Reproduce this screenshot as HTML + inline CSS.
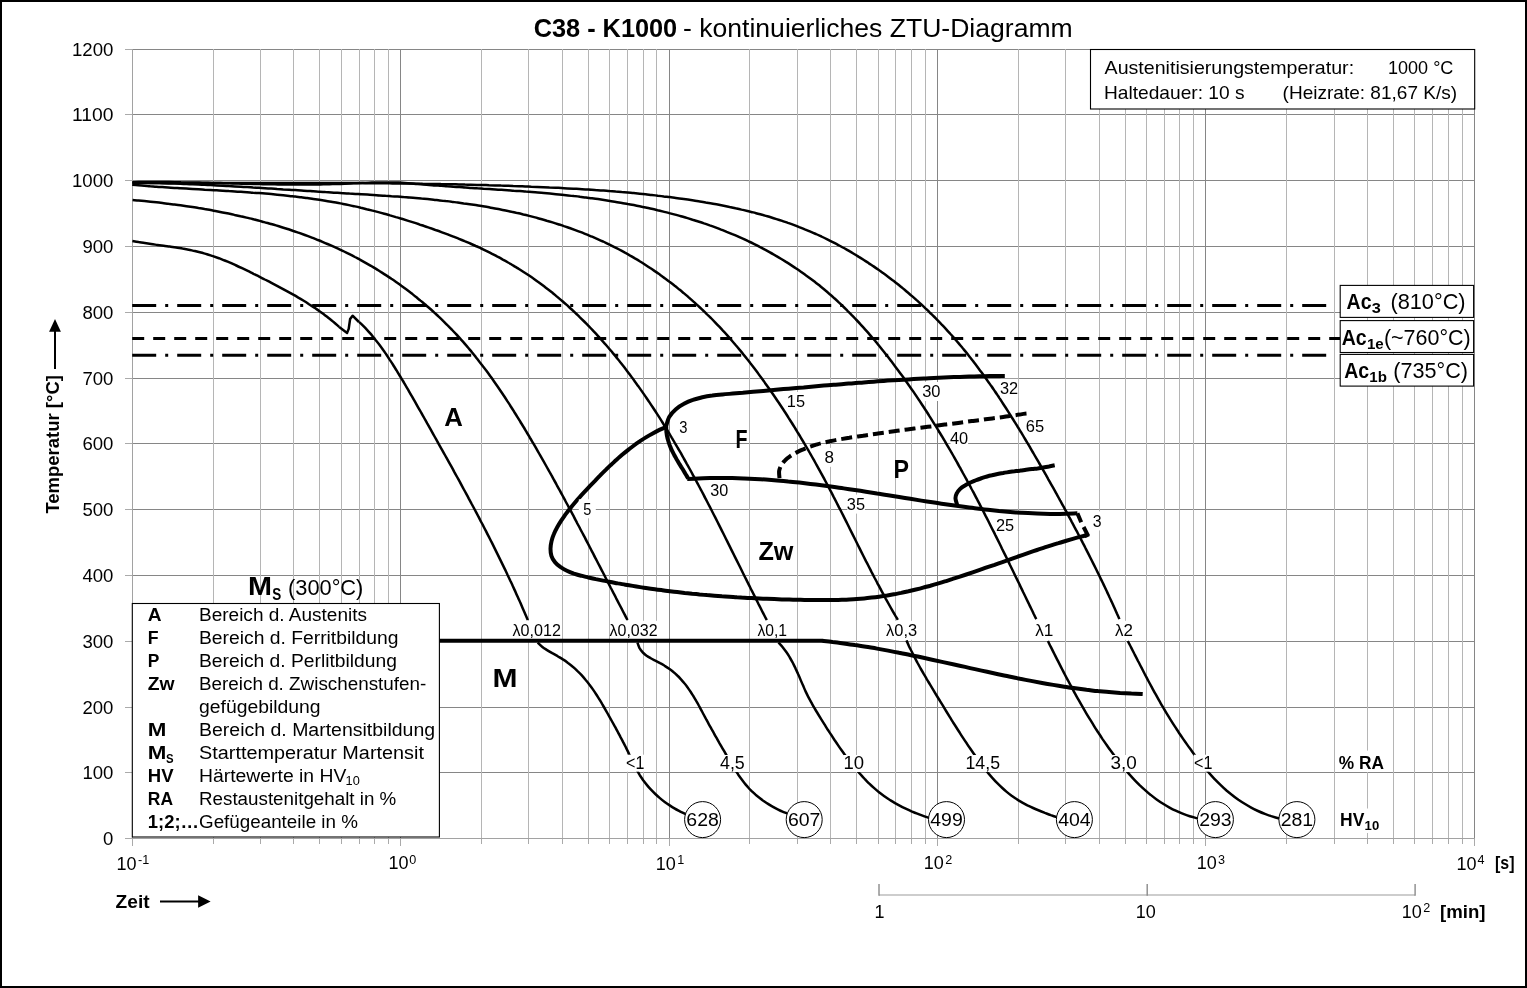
<!DOCTYPE html><html><head><meta charset="utf-8"><title>C38 - K1000 ZTU</title><style>html,body{margin:0;padding:0;background:#fff}svg{display:block;will-change:transform}</style></head><body><svg width="1527" height="988" viewBox="0 0 1527 988" font-family="Liberation Sans, sans-serif" fill="#000">
<rect x="0" y="0" width="1527" height="988" fill="#fff"/>
<g stroke-width="1" shape-rendering="crispEdges"><line x1="132.0" y1="772.5" x2="1475.0" y2="772.5" stroke="#868686"/><line x1="132.0" y1="707.5" x2="1475.0" y2="707.5" stroke="#868686"/><line x1="132.0" y1="641.5" x2="1475.0" y2="641.5" stroke="#868686"/><line x1="132.0" y1="575.5" x2="1475.0" y2="575.5" stroke="#868686"/><line x1="132.0" y1="509.5" x2="1475.0" y2="509.5" stroke="#868686"/><line x1="132.0" y1="443.5" x2="1475.0" y2="443.5" stroke="#868686"/><line x1="132.0" y1="378.5" x2="1475.0" y2="378.5" stroke="#868686"/><line x1="132.0" y1="312.5" x2="1475.0" y2="312.5" stroke="#868686"/><line x1="132.0" y1="246.5" x2="1475.0" y2="246.5" stroke="#868686"/><line x1="132.0" y1="180.5" x2="1475.0" y2="180.5" stroke="#868686"/><line x1="132.0" y1="114.5" x2="1475.0" y2="114.5" stroke="#868686"/><line x1="132.0" y1="49.5" x2="1475.0" y2="49.5" stroke="#868686"/><line x1="213.5" y1="49.0" x2="213.5" y2="838.0" stroke="#b5b5b5"/><line x1="213.5" y1="839.0" x2="213.5" y2="844.0" stroke="#aaaaaa"/><line x1="260.5" y1="49.0" x2="260.5" y2="838.0" stroke="#b5b5b5"/><line x1="260.5" y1="839.0" x2="260.5" y2="844.0" stroke="#aaaaaa"/><line x1="293.5" y1="49.0" x2="293.5" y2="838.0" stroke="#b5b5b5"/><line x1="293.5" y1="839.0" x2="293.5" y2="844.0" stroke="#aaaaaa"/><line x1="319.5" y1="49.0" x2="319.5" y2="838.0" stroke="#b5b5b5"/><line x1="319.5" y1="839.0" x2="319.5" y2="844.0" stroke="#aaaaaa"/><line x1="341.5" y1="49.0" x2="341.5" y2="838.0" stroke="#b5b5b5"/><line x1="341.5" y1="839.0" x2="341.5" y2="844.0" stroke="#aaaaaa"/><line x1="359.5" y1="49.0" x2="359.5" y2="838.0" stroke="#b5b5b5"/><line x1="359.5" y1="839.0" x2="359.5" y2="844.0" stroke="#aaaaaa"/><line x1="374.5" y1="49.0" x2="374.5" y2="838.0" stroke="#b5b5b5"/><line x1="374.5" y1="839.0" x2="374.5" y2="844.0" stroke="#aaaaaa"/><line x1="388.5" y1="49.0" x2="388.5" y2="838.0" stroke="#b5b5b5"/><line x1="388.5" y1="839.0" x2="388.5" y2="844.0" stroke="#aaaaaa"/><line x1="481.5" y1="49.0" x2="481.5" y2="838.0" stroke="#b5b5b5"/><line x1="481.5" y1="839.0" x2="481.5" y2="844.0" stroke="#aaaaaa"/><line x1="528.5" y1="49.0" x2="528.5" y2="838.0" stroke="#b5b5b5"/><line x1="528.5" y1="839.0" x2="528.5" y2="844.0" stroke="#aaaaaa"/><line x1="562.5" y1="49.0" x2="562.5" y2="838.0" stroke="#b5b5b5"/><line x1="562.5" y1="839.0" x2="562.5" y2="844.0" stroke="#aaaaaa"/><line x1="588.5" y1="49.0" x2="588.5" y2="838.0" stroke="#b5b5b5"/><line x1="588.5" y1="839.0" x2="588.5" y2="844.0" stroke="#aaaaaa"/><line x1="609.5" y1="49.0" x2="609.5" y2="838.0" stroke="#b5b5b5"/><line x1="609.5" y1="839.0" x2="609.5" y2="844.0" stroke="#aaaaaa"/><line x1="627.5" y1="49.0" x2="627.5" y2="838.0" stroke="#b5b5b5"/><line x1="627.5" y1="839.0" x2="627.5" y2="844.0" stroke="#aaaaaa"/><line x1="643.5" y1="49.0" x2="643.5" y2="838.0" stroke="#b5b5b5"/><line x1="643.5" y1="839.0" x2="643.5" y2="844.0" stroke="#aaaaaa"/><line x1="656.5" y1="49.0" x2="656.5" y2="838.0" stroke="#b5b5b5"/><line x1="656.5" y1="839.0" x2="656.5" y2="844.0" stroke="#aaaaaa"/><line x1="749.5" y1="49.0" x2="749.5" y2="838.0" stroke="#b5b5b5"/><line x1="749.5" y1="839.0" x2="749.5" y2="844.0" stroke="#aaaaaa"/><line x1="797.5" y1="49.0" x2="797.5" y2="838.0" stroke="#b5b5b5"/><line x1="797.5" y1="839.0" x2="797.5" y2="844.0" stroke="#aaaaaa"/><line x1="830.5" y1="49.0" x2="830.5" y2="838.0" stroke="#b5b5b5"/><line x1="830.5" y1="839.0" x2="830.5" y2="844.0" stroke="#aaaaaa"/><line x1="856.5" y1="49.0" x2="856.5" y2="838.0" stroke="#b5b5b5"/><line x1="856.5" y1="839.0" x2="856.5" y2="844.0" stroke="#aaaaaa"/><line x1="878.5" y1="49.0" x2="878.5" y2="838.0" stroke="#b5b5b5"/><line x1="878.5" y1="839.0" x2="878.5" y2="844.0" stroke="#aaaaaa"/><line x1="895.5" y1="49.0" x2="895.5" y2="838.0" stroke="#b5b5b5"/><line x1="895.5" y1="839.0" x2="895.5" y2="844.0" stroke="#aaaaaa"/><line x1="911.5" y1="49.0" x2="911.5" y2="838.0" stroke="#b5b5b5"/><line x1="911.5" y1="839.0" x2="911.5" y2="844.0" stroke="#aaaaaa"/><line x1="925.5" y1="49.0" x2="925.5" y2="838.0" stroke="#b5b5b5"/><line x1="925.5" y1="839.0" x2="925.5" y2="844.0" stroke="#aaaaaa"/><line x1="1018.5" y1="49.0" x2="1018.5" y2="838.0" stroke="#b5b5b5"/><line x1="1018.5" y1="839.0" x2="1018.5" y2="844.0" stroke="#aaaaaa"/><line x1="1065.5" y1="49.0" x2="1065.5" y2="838.0" stroke="#b5b5b5"/><line x1="1065.5" y1="839.0" x2="1065.5" y2="844.0" stroke="#aaaaaa"/><line x1="1099.5" y1="49.0" x2="1099.5" y2="838.0" stroke="#b5b5b5"/><line x1="1099.5" y1="839.0" x2="1099.5" y2="844.0" stroke="#aaaaaa"/><line x1="1125.5" y1="49.0" x2="1125.5" y2="838.0" stroke="#b5b5b5"/><line x1="1125.5" y1="839.0" x2="1125.5" y2="844.0" stroke="#aaaaaa"/><line x1="1146.5" y1="49.0" x2="1146.5" y2="838.0" stroke="#b5b5b5"/><line x1="1146.5" y1="839.0" x2="1146.5" y2="844.0" stroke="#aaaaaa"/><line x1="1164.5" y1="49.0" x2="1164.5" y2="838.0" stroke="#b5b5b5"/><line x1="1164.5" y1="839.0" x2="1164.5" y2="844.0" stroke="#aaaaaa"/><line x1="1179.5" y1="49.0" x2="1179.5" y2="838.0" stroke="#b5b5b5"/><line x1="1179.5" y1="839.0" x2="1179.5" y2="844.0" stroke="#aaaaaa"/><line x1="1193.5" y1="49.0" x2="1193.5" y2="838.0" stroke="#b5b5b5"/><line x1="1193.5" y1="839.0" x2="1193.5" y2="844.0" stroke="#aaaaaa"/><line x1="1286.5" y1="49.0" x2="1286.5" y2="838.0" stroke="#b5b5b5"/><line x1="1286.5" y1="839.0" x2="1286.5" y2="844.0" stroke="#aaaaaa"/><line x1="1334.5" y1="49.0" x2="1334.5" y2="838.0" stroke="#b5b5b5"/><line x1="1334.5" y1="839.0" x2="1334.5" y2="844.0" stroke="#aaaaaa"/><line x1="1367.5" y1="49.0" x2="1367.5" y2="838.0" stroke="#b5b5b5"/><line x1="1367.5" y1="839.0" x2="1367.5" y2="844.0" stroke="#aaaaaa"/><line x1="1393.5" y1="49.0" x2="1393.5" y2="838.0" stroke="#b5b5b5"/><line x1="1393.5" y1="839.0" x2="1393.5" y2="844.0" stroke="#aaaaaa"/><line x1="1414.5" y1="49.0" x2="1414.5" y2="838.0" stroke="#b5b5b5"/><line x1="1414.5" y1="839.0" x2="1414.5" y2="844.0" stroke="#aaaaaa"/><line x1="1432.5" y1="49.0" x2="1432.5" y2="838.0" stroke="#b5b5b5"/><line x1="1432.5" y1="839.0" x2="1432.5" y2="844.0" stroke="#aaaaaa"/><line x1="1448.5" y1="49.0" x2="1448.5" y2="838.0" stroke="#b5b5b5"/><line x1="1448.5" y1="839.0" x2="1448.5" y2="844.0" stroke="#aaaaaa"/><line x1="1462.5" y1="49.0" x2="1462.5" y2="838.0" stroke="#b5b5b5"/><line x1="1462.5" y1="839.0" x2="1462.5" y2="844.0" stroke="#aaaaaa"/><line x1="400.5" y1="49.0" x2="400.5" y2="838.0" stroke="#868686"/><line x1="669.5" y1="49.0" x2="669.5" y2="838.0" stroke="#868686"/><line x1="937.5" y1="49.0" x2="937.5" y2="838.0" stroke="#868686"/><line x1="1205.5" y1="49.0" x2="1205.5" y2="838.0" stroke="#868686"/><line x1="1474.5" y1="49.0" x2="1474.5" y2="838.0" stroke="#868686"/><line x1="132.5" y1="839.0" x2="132.5" y2="846.0" stroke="#aaaaaa"/><line x1="400.5" y1="839.0" x2="400.5" y2="846.0" stroke="#aaaaaa"/><line x1="669.5" y1="839.0" x2="669.5" y2="846.0" stroke="#aaaaaa"/><line x1="937.5" y1="839.0" x2="937.5" y2="846.0" stroke="#aaaaaa"/><line x1="1205.5" y1="839.0" x2="1205.5" y2="846.0" stroke="#aaaaaa"/><line x1="1474.5" y1="839.0" x2="1474.5" y2="846.0" stroke="#aaaaaa"/><line x1="132.5" y1="49.0" x2="132.5" y2="839.0" stroke="#a2a2a2"/><line x1="132.0" y1="838.5" x2="1475.0" y2="838.5" stroke="#a2a2a2"/><line x1="125.0" y1="838.5" x2="132.0" y2="838.5" stroke="#aaaaaa"/><line x1="125.0" y1="772.5" x2="132.0" y2="772.5" stroke="#aaaaaa"/><line x1="125.0" y1="707.5" x2="132.0" y2="707.5" stroke="#aaaaaa"/><line x1="125.0" y1="641.5" x2="132.0" y2="641.5" stroke="#aaaaaa"/><line x1="125.0" y1="575.5" x2="132.0" y2="575.5" stroke="#aaaaaa"/><line x1="125.0" y1="509.5" x2="132.0" y2="509.5" stroke="#aaaaaa"/><line x1="125.0" y1="443.5" x2="132.0" y2="443.5" stroke="#aaaaaa"/><line x1="125.0" y1="378.5" x2="132.0" y2="378.5" stroke="#aaaaaa"/><line x1="125.0" y1="312.5" x2="132.0" y2="312.5" stroke="#aaaaaa"/><line x1="125.0" y1="246.5" x2="132.0" y2="246.5" stroke="#aaaaaa"/><line x1="125.0" y1="180.5" x2="132.0" y2="180.5" stroke="#aaaaaa"/><line x1="125.0" y1="114.5" x2="132.0" y2="114.5" stroke="#aaaaaa"/><line x1="125.0" y1="49.5" x2="132.0" y2="49.5" stroke="#aaaaaa"/></g>
<text x="113.4" y="844.8" font-size="18.0" textLength="10.3" lengthAdjust="spacingAndGlyphs" text-anchor="end" >0</text>
<text x="113.4" y="778.8" font-size="18.0" textLength="31.0" lengthAdjust="spacingAndGlyphs" text-anchor="end" >100</text>
<text x="113.4" y="713.8" font-size="18.0" textLength="31.0" lengthAdjust="spacingAndGlyphs" text-anchor="end" >200</text>
<text x="113.4" y="647.8" font-size="18.0" textLength="31.0" lengthAdjust="spacingAndGlyphs" text-anchor="end" >300</text>
<text x="113.4" y="581.8" font-size="18.0" textLength="31.0" lengthAdjust="spacingAndGlyphs" text-anchor="end" >400</text>
<text x="113.4" y="515.8" font-size="18.0" textLength="31.0" lengthAdjust="spacingAndGlyphs" text-anchor="end" >500</text>
<text x="113.4" y="449.8" font-size="18.0" textLength="31.0" lengthAdjust="spacingAndGlyphs" text-anchor="end" >600</text>
<text x="113.4" y="384.8" font-size="18.0" textLength="31.0" lengthAdjust="spacingAndGlyphs" text-anchor="end" >700</text>
<text x="113.4" y="318.8" font-size="18.0" textLength="31.0" lengthAdjust="spacingAndGlyphs" text-anchor="end" >800</text>
<text x="113.4" y="252.8" font-size="18.0" textLength="31.0" lengthAdjust="spacingAndGlyphs" text-anchor="end" >900</text>
<text x="113.4" y="186.8" font-size="18.0" textLength="41.4" lengthAdjust="spacingAndGlyphs" text-anchor="end" >1000</text>
<text x="113.4" y="120.8" font-size="18.0" textLength="41.4" lengthAdjust="spacingAndGlyphs" text-anchor="end" >1100</text>
<text x="113.4" y="55.8" font-size="18.0" textLength="41.4" lengthAdjust="spacingAndGlyphs" text-anchor="end" >1200</text>
<text x="116.4" y="869.8" font-size="18.0" >10</text>
<text x="138.1" y="864.0" font-size="12.6" >-1</text>
<text x="388.5" y="869.3" font-size="18.0" >10</text>
<text x="409.3" y="863.5" font-size="12.6" >0</text>
<text x="655.8" y="869.6" font-size="18.0" >10</text>
<text x="677.2" y="863.8" font-size="12.6" >1</text>
<text x="923.8" y="869.3" font-size="18.0" >10</text>
<text x="945.2" y="863.5" font-size="12.6" >2</text>
<text x="1196.7" y="869.3" font-size="18.0" >10</text>
<text x="1218.1" y="863.5" font-size="12.6" >3</text>
<text x="1456.6" y="869.6" font-size="18.0" >10</text>
<text x="1477.4" y="863.8" font-size="12.6" >4</text>
<text x="1495.0" y="869.3" font-size="18.0" textLength="19.5" lengthAdjust="spacingAndGlyphs" font-weight="bold" >[s]</text>
<line x1="879" y1="895" x2="1415.1" y2="895" stroke="#bdbdbd" stroke-width="1.6"/>
<line x1="879.0" y1="884" x2="879.0" y2="895.8" stroke="#8a8a8a" stroke-width="1.4"/>
<line x1="1147.2" y1="884" x2="1147.2" y2="895.8" stroke="#8a8a8a" stroke-width="1.4"/>
<line x1="1415.1" y1="884" x2="1415.1" y2="895.8" stroke="#8a8a8a" stroke-width="1.4"/>
<text x="874.6" y="918.4" font-size="18.0" >1</text>
<text x="1135.7" y="918.0" font-size="18.0" >10</text>
<text x="1401.8" y="918.0" font-size="18.0" >10</text>
<text x="1423.2" y="912.2" font-size="12.6" >2</text>
<text x="1440.0" y="918.0" font-size="18.0" textLength="45.5" lengthAdjust="spacingAndGlyphs" font-weight="bold" >[min]</text>
<text x="115.6" y="907.8" font-size="18.3" textLength="34.0" lengthAdjust="spacingAndGlyphs" font-weight="bold" >Zeit</text>
<line x1="160" y1="901.4" x2="199" y2="901.4" stroke="#000" stroke-width="2"/>
<polygon points="198.1,895.2 210.6,901.4 198.1,907.8"/>
<g transform="translate(58.9,513.6) rotate(-90)">
<text x="0.0" y="0.0" font-size="18.3" textLength="138.5" lengthAdjust="spacingAndGlyphs" font-weight="bold" >Temperatur [°C]</text>
</g>
<line x1="55" y1="369" x2="55" y2="331" stroke="#000" stroke-width="2"/>
<polygon points="49.1,331.8 55,319.1 60.9,331.8"/>
<text x="533.7" y="36.8" font-size="25.6" textLength="143.5" lengthAdjust="spacingAndGlyphs" font-weight="bold" >C38 - K1000</text>
<text x="683.0" y="36.8" font-size="25.6" textLength="389.7" lengthAdjust="spacingAndGlyphs" >- kontinuierliches ZTU-Diagramm</text>
<line x1="132.2" y1="305.4" x2="1327" y2="305.4" stroke="#000" stroke-width="3" stroke-dasharray="24 9 3 9"/>
<line x1="132.2" y1="338.45" x2="1340" y2="338.45" stroke="#000" stroke-width="3" stroke-dasharray="12 9"/>
<line x1="132.2" y1="355.3" x2="1327" y2="355.3" stroke="#000" stroke-width="3" stroke-dasharray="24 9 3 9"/>
<g fill="none" stroke="#000" stroke-width="2.5" stroke-linejoin="round">
<path d="M132.4 240.9 C133.4 241.1 136.5 241.7 138.6 242.1 C140.6 242.4 142.7 242.8 144.8 243.1 C146.9 243.4 149.0 243.7 151.1 244.0 C153.2 244.4 155.3 244.6 157.4 244.9 C159.5 245.2 161.6 245.5 163.7 245.8 C165.7 246.1 167.8 246.3 169.9 246.6 C172.0 246.9 174.1 247.2 176.2 247.5 C178.3 247.9 180.4 248.2 182.5 248.6 C184.5 248.9 186.6 249.3 188.7 249.7 C190.7 250.1 192.8 250.6 194.8 251.0 C196.9 251.5 198.9 252.0 200.9 252.5 C202.9 253.1 205.0 253.6 207.0 254.2 C209.0 254.8 211.0 255.5 212.9 256.1 C214.9 256.8 216.9 257.5 218.9 258.2 C220.8 259.0 222.8 259.7 224.7 260.5 C226.7 261.3 228.6 262.1 230.6 262.9 C232.5 263.8 234.4 264.6 236.3 265.5 C238.3 266.4 240.2 267.3 242.1 268.2 C244.0 269.1 245.9 270.0 247.8 270.9 C249.7 271.9 251.6 272.8 253.5 273.8 C255.4 274.7 257.3 275.7 259.2 276.6 C261.1 277.6 263.0 278.5 264.8 279.5 C266.7 280.5 268.6 281.4 270.5 282.4 C272.4 283.4 274.2 284.3 276.1 285.3 C278.0 286.3 279.9 287.3 281.7 288.3 C283.6 289.3 285.4 290.3 287.3 291.3 C289.1 292.3 291.0 293.4 292.8 294.4 C294.6 295.4 296.5 296.5 298.3 297.6 C300.1 298.6 301.9 299.7 303.7 300.8 C305.5 301.9 307.2 303.0 309.0 304.2 C310.8 305.3 312.5 306.5 314.3 307.6 C316.0 308.8 317.8 310.0 319.5 311.2 C321.2 312.4 322.9 313.7 324.6 314.9 C326.3 316.2 327.9 317.5 329.6 318.8 C331.2 320.1 332.9 321.4 334.5 322.8 C336.1 324.1 338.5 326.3 339.3 326.9"/>
<path d="M359.0 321.9 C359.8 322.6 362.0 324.7 363.5 326.2 C364.9 327.6 366.3 329.1 367.7 330.6 C369.1 332.1 370.4 333.7 371.8 335.2 C373.1 336.8 374.4 338.4 375.6 340.0 C376.9 341.6 378.2 343.2 379.4 344.8 C380.6 346.4 381.8 348.1 383.0 349.8 C384.2 351.4 385.3 353.1 386.5 354.8 C387.6 356.5 388.7 358.2 389.8 359.9 C391.0 361.6 392.1 363.3 393.2 365.0 C394.3 366.8 395.3 368.5 396.4 370.2 C397.5 372.0 398.5 373.7 399.6 375.5 C400.7 377.2 401.7 379.0 402.8 380.7 C403.8 382.5 404.9 384.2 405.9 386.0 C406.9 387.8 408.0 389.5 409.0 391.3 C410.0 393.1 411.0 394.8 412.1 396.6 C413.1 398.4 414.1 400.2 415.1 401.9 C416.1 403.7 417.1 405.5 418.1 407.3 C419.1 409.1 420.2 410.9 421.2 412.6 C422.2 414.4 423.2 416.2 424.2 418.0 C425.2 419.8 426.2 421.6 427.2 423.4 C428.2 425.1 429.2 426.9 430.2 428.7 C431.2 430.5 432.2 432.3 433.2 434.1 C434.2 435.9 435.2 437.6 436.2 439.4 C437.2 441.2 438.2 443.0 439.2 444.8 C440.2 446.6 441.2 448.4 442.2 450.1 C443.2 451.9 444.2 453.7 445.2 455.5 C446.2 457.3 447.2 459.1 448.2 460.9 C449.2 462.7 450.2 464.5 451.2 466.2 C452.2 468.0 453.2 469.8 454.1 471.6 C455.1 473.4 456.1 475.2 457.1 477.0 C458.1 478.8 459.1 480.6 460.1 482.4 C461.0 484.2 462.0 486.0 463.0 487.8 C464.0 489.6 464.9 491.4 465.9 493.2 C466.9 495.0 467.9 496.8 468.8 498.6 C469.8 500.4 470.8 502.2 471.7 504.0 C472.7 505.8 473.7 507.6 474.6 509.4 C475.6 511.2 476.5 513.0 477.5 514.8 C478.4 516.6 479.4 518.4 480.3 520.3 C481.3 522.1 482.2 523.9 483.2 525.7 C484.1 527.5 485.0 529.3 486.0 531.1 C486.9 533.0 487.8 534.8 488.8 536.6 C489.7 538.4 490.6 540.3 491.6 542.1 C492.5 543.9 493.4 545.7 494.3 547.6 C495.2 549.4 496.1 551.2 497.0 553.1 C497.9 554.9 498.8 556.7 499.7 558.6 C500.6 560.4 501.5 562.2 502.4 564.1 C503.3 565.9 504.2 567.8 505.1 569.6 C506.0 571.5 506.9 573.3 507.7 575.2 C508.6 577.0 509.5 578.9 510.3 580.7 C511.2 582.6 512.1 584.4 512.9 586.3 C513.8 588.2 514.6 590.0 515.5 591.9 C516.3 593.8 517.1 595.6 518.0 597.5 C518.8 599.4 519.7 601.2 520.5 603.1 C521.3 605.0 522.1 606.9 522.9 608.8 C523.7 610.6 524.6 612.5 525.4 614.4 C526.2 616.3 527.4 619.1 527.8 620.1"/>
<path d="M132.6 200.0 C133.6 200.1 136.5 200.3 138.5 200.5 C140.5 200.7 142.5 200.9 144.5 201.1 C146.5 201.3 148.5 201.5 150.5 201.7 C152.5 201.9 154.5 202.1 156.5 202.3 C158.5 202.6 160.5 202.8 162.5 203.0 C164.5 203.3 166.5 203.5 168.5 203.8 C170.5 204.0 172.5 204.3 174.5 204.5 C176.5 204.8 178.5 205.1 180.5 205.3 C182.5 205.6 184.5 205.9 186.5 206.2 C188.5 206.5 190.5 206.8 192.5 207.1 C194.5 207.4 196.5 207.7 198.5 208.1 C200.5 208.4 202.5 208.7 204.6 209.1 C206.6 209.4 208.6 209.8 210.6 210.1 C212.6 210.5 214.6 210.8 216.6 211.2 C218.6 211.6 220.6 212.0 222.6 212.4 C224.6 212.8 226.6 213.2 228.6 213.6 C230.6 214.0 232.5 214.4 234.5 214.9 C236.5 215.3 238.5 215.7 240.5 216.2 C242.5 216.6 244.5 217.1 246.5 217.6 C248.4 218.1 250.4 218.5 252.4 219.0 C254.4 219.5 256.4 220.0 258.3 220.5 C260.3 221.0 262.3 221.6 264.2 222.1 C266.2 222.6 268.2 223.2 270.1 223.7 C272.1 224.3 274.0 224.9 276.0 225.4 C277.9 226.0 279.9 226.6 281.8 227.2 C283.8 227.8 285.7 228.4 287.6 229.0 C289.6 229.7 291.5 230.3 293.4 231.0 C295.4 231.6 297.3 232.3 299.2 232.9 C301.1 233.6 303.0 234.3 304.9 235.0 C306.8 235.7 308.7 236.4 310.6 237.1 C312.5 237.8 314.4 238.6 316.3 239.3 C318.2 240.1 320.1 240.8 321.9 241.6 C323.8 242.4 325.7 243.2 327.5 244.0 C329.4 244.8 331.2 245.6 333.1 246.4 C334.9 247.2 336.8 248.1 338.6 248.9 C340.5 249.8 342.3 250.6 344.1 251.5 C345.9 252.4 347.7 253.3 349.5 254.2 C351.4 255.1 353.2 256.0 354.9 257.0 C356.7 257.9 358.5 258.9 360.3 259.8 C362.1 260.8 363.8 261.8 365.6 262.8 C367.4 263.8 369.1 264.8 370.9 265.8 C372.6 266.8 374.4 267.9 376.1 268.9 C377.8 270.0 379.5 271.0 381.2 272.1 C383.0 273.2 384.7 274.3 386.3 275.4 C388.0 276.5 389.7 277.6 391.4 278.8 C393.1 279.9 394.7 281.0 396.4 282.2 C398.1 283.4 399.7 284.5 401.3 285.7 C403.0 286.9 404.6 288.1 406.2 289.3 C407.9 290.6 409.5 291.8 411.1 293.0 C412.7 294.3 414.3 295.5 415.8 296.8 C417.4 298.1 419.0 299.3 420.5 300.6 C422.1 301.9 423.6 303.2 425.2 304.5 C426.7 305.9 428.3 307.2 429.8 308.5 C431.3 309.9 432.8 311.2 434.3 312.6 C435.8 314.0 437.3 315.3 438.7 316.7 C440.2 318.1 441.7 319.5 443.1 320.9 C444.6 322.3 446.0 323.8 447.4 325.2 C448.9 326.6 450.3 328.1 451.7 329.5 C453.1 331.0 454.5 332.5 455.9 333.9 C457.2 335.4 458.6 336.9 460.0 338.4 C461.3 339.9 462.7 341.4 464.0 342.9 C465.3 344.5 466.7 346.0 468.0 347.5 C469.3 349.1 470.6 350.6 471.9 352.2 C473.1 353.7 474.4 355.3 475.7 356.9 C476.9 358.5 478.2 360.1 479.4 361.7 C480.7 363.3 481.9 364.9 483.1 366.5 C484.4 368.1 485.6 369.7 486.8 371.3 C488.0 373.0 489.2 374.6 490.4 376.3 C491.6 377.9 492.7 379.5 493.9 381.2 C495.1 382.9 496.2 384.5 497.4 386.2 C498.5 387.9 499.7 389.5 500.8 391.2 C501.9 392.9 503.1 394.6 504.2 396.3 C505.3 398.0 506.4 399.7 507.5 401.4 C508.7 403.1 509.8 404.8 510.8 406.5 C511.9 408.2 513.0 409.9 514.1 411.7 C515.2 413.4 516.3 415.1 517.3 416.8 C518.4 418.6 519.5 420.3 520.5 422.0 C521.6 423.8 522.6 425.5 523.7 427.2 C524.7 429.0 525.8 430.7 526.8 432.5 C527.9 434.2 528.9 435.9 529.9 437.7 C531.0 439.4 532.0 441.2 533.0 442.9 C534.1 444.7 535.1 446.4 536.1 448.2 C537.1 450.0 538.1 451.7 539.1 453.5 C540.1 455.2 541.1 457.0 542.2 458.8 C543.2 460.5 544.2 462.3 545.1 464.0 C546.1 465.8 547.1 467.6 548.1 469.3 C549.1 471.1 550.1 472.9 551.1 474.7 C552.1 476.4 553.0 478.2 554.0 480.0 C555.0 481.7 556.0 483.5 556.9 485.3 C557.9 487.1 558.9 488.9 559.9 490.6 C560.8 492.4 561.8 494.2 562.8 496.0 C563.7 497.8 564.7 499.5 565.6 501.3 C566.6 503.1 567.5 504.9 568.5 506.7 C569.5 508.5 570.4 510.3 571.4 512.0 C572.3 513.8 573.3 515.6 574.2 517.4 C575.1 519.2 576.1 521.0 577.0 522.8 C578.0 524.6 578.9 526.4 579.9 528.2 C580.8 530.0 581.7 531.7 582.7 533.5 C583.6 535.3 584.6 537.1 585.5 538.9 C586.4 540.7 587.4 542.5 588.3 544.3 C589.2 546.1 590.2 547.9 591.1 549.7 C592.0 551.5 593.0 553.3 593.9 555.1 C594.8 556.9 595.8 558.7 596.7 560.5 C597.6 562.3 598.5 564.1 599.5 565.9 C600.4 567.7 601.3 569.5 602.3 571.3 C603.2 573.1 604.1 574.9 605.1 576.7 C606.0 578.5 606.9 580.3 607.9 582.1 C608.8 583.9 609.7 585.7 610.6 587.5 C611.6 589.3 612.5 591.1 613.4 592.9 C614.4 594.7 615.3 596.5 616.2 598.3 C617.2 600.1 618.1 601.9 619.0 603.7 C620.0 605.6 620.9 607.4 621.9 609.2 C622.8 611.0 623.7 612.8 624.7 614.6 C625.6 616.4 627.0 619.1 627.5 620.0"/>
<path d="M132.2 184.8 C133.2 184.9 136.2 185.2 138.2 185.3 C140.2 185.5 142.2 185.7 144.2 185.8 C146.2 186.0 148.2 186.1 150.2 186.3 C152.2 186.4 154.2 186.6 156.3 186.7 C158.3 186.9 160.3 187.0 162.3 187.1 C164.3 187.3 166.3 187.4 168.3 187.5 C170.3 187.7 172.3 187.8 174.4 187.9 C176.4 188.0 178.4 188.2 180.4 188.3 C182.4 188.4 184.4 188.5 186.4 188.6 C188.5 188.8 190.5 188.9 192.5 189.0 C194.5 189.1 196.5 189.2 198.6 189.3 C200.6 189.4 202.6 189.5 204.6 189.7 C206.6 189.8 208.6 189.9 210.7 190.0 C212.7 190.1 214.7 190.2 216.7 190.3 C218.7 190.5 220.8 190.6 222.8 190.7 C224.8 190.8 226.8 190.9 228.8 191.1 C230.9 191.2 232.9 191.3 234.9 191.4 C236.9 191.6 238.9 191.7 241.0 191.8 C243.0 192.0 245.0 192.1 247.0 192.2 C249.0 192.4 251.0 192.5 253.1 192.7 C255.1 192.8 257.1 193.0 259.1 193.1 C261.1 193.3 263.1 193.5 265.2 193.6 C267.2 193.8 269.2 194.0 271.2 194.1 C273.2 194.3 275.2 194.5 277.2 194.7 C279.2 194.9 281.2 195.1 283.3 195.3 C285.3 195.5 287.3 195.7 289.3 195.9 C291.3 196.1 293.3 196.4 295.3 196.6 C297.3 196.8 299.3 197.1 301.3 197.3 C303.3 197.6 305.3 197.8 307.3 198.1 C309.3 198.4 311.3 198.6 313.3 198.9 C315.3 199.2 317.3 199.5 319.3 199.8 C321.3 200.1 323.3 200.4 325.2 200.7 C327.2 201.1 329.2 201.4 331.2 201.7 C333.2 202.1 335.2 202.4 337.2 202.8 C339.1 203.2 341.1 203.5 343.1 203.9 C345.1 204.3 347.0 204.7 349.0 205.1 C351.0 205.6 353.0 206.0 354.9 206.4 C356.9 206.8 358.9 207.3 360.8 207.8 C362.8 208.2 364.7 208.7 366.7 209.2 C368.7 209.6 370.6 210.1 372.6 210.6 C374.5 211.1 376.5 211.6 378.4 212.1 C380.4 212.7 382.3 213.2 384.3 213.7 C386.2 214.3 388.2 214.8 390.1 215.4 C392.1 215.9 394.0 216.5 395.9 217.1 C397.9 217.6 399.8 218.2 401.8 218.8 C403.7 219.4 405.6 220.0 407.5 220.6 C409.5 221.2 411.4 221.8 413.3 222.4 C415.3 223.1 417.2 223.7 419.1 224.3 C421.0 225.0 422.9 225.6 424.8 226.3 C426.8 226.9 428.7 227.6 430.6 228.2 C432.5 228.9 434.4 229.6 436.3 230.3 C438.2 230.9 440.1 231.6 442.0 232.3 C443.9 233.0 445.8 233.7 447.7 234.4 C449.6 235.2 451.5 235.9 453.4 236.6 C455.2 237.3 457.1 238.1 459.0 238.8 C460.9 239.6 462.7 240.4 464.6 241.2 C466.5 241.9 468.3 242.7 470.2 243.5 C472.0 244.3 473.9 245.2 475.7 246.0 C477.6 246.8 479.4 247.7 481.2 248.5 C483.1 249.4 484.9 250.3 486.7 251.1 C488.5 252.0 490.3 252.9 492.1 253.9 C493.9 254.8 495.7 255.7 497.5 256.7 C499.3 257.6 501.1 258.6 502.8 259.6 C504.6 260.5 506.4 261.5 508.1 262.5 C509.9 263.5 511.6 264.6 513.4 265.6 C515.1 266.6 516.8 267.7 518.5 268.7 C520.2 269.8 521.9 270.9 523.6 272.0 C525.3 273.1 527.0 274.2 528.7 275.3 C530.3 276.4 532.0 277.6 533.7 278.7 C535.3 279.9 536.9 281.1 538.6 282.2 C540.2 283.4 541.8 284.6 543.4 285.8 C545.0 287.0 546.6 288.3 548.2 289.5 C549.8 290.7 551.4 292.0 552.9 293.2 C554.5 294.5 556.0 295.8 557.6 297.1 C559.1 298.4 560.6 299.7 562.2 301.0 C563.7 302.3 565.2 303.6 566.7 304.9 C568.2 306.3 569.7 307.6 571.2 309.0 C572.6 310.3 574.1 311.7 575.6 313.1 C577.0 314.5 578.5 315.9 579.9 317.3 C581.4 318.7 582.8 320.1 584.2 321.5 C585.6 322.9 587.1 324.4 588.5 325.8 C589.9 327.3 591.2 328.7 592.6 330.2 C594.0 331.7 595.4 333.1 596.8 334.6 C598.1 336.1 599.5 337.6 600.8 339.1 C602.2 340.6 603.5 342.1 604.8 343.7 C606.2 345.2 607.5 346.7 608.8 348.2 C610.1 349.8 611.4 351.3 612.7 352.9 C614.0 354.4 615.3 356.0 616.5 357.6 C617.8 359.2 619.1 360.7 620.3 362.3 C621.6 363.9 622.9 365.5 624.1 367.1 C625.3 368.7 626.6 370.3 627.8 371.9 C629.0 373.5 630.2 375.2 631.4 376.8 C632.7 378.4 633.9 380.1 635.0 381.7 C636.2 383.3 637.4 385.0 638.6 386.6 C639.8 388.3 640.9 389.9 642.1 391.6 C643.3 393.3 644.4 394.9 645.6 396.6 C646.7 398.3 647.9 400.0 649.0 401.6 C650.1 403.3 651.2 405.0 652.4 406.7 C653.5 408.4 654.6 410.1 655.7 411.8 C656.8 413.5 657.9 415.2 659.0 416.9 C660.1 418.6 661.1 420.3 662.2 422.0 C663.3 423.8 664.4 425.5 665.4 427.2 C666.5 428.9 667.5 430.6 668.6 432.4 C669.6 434.1 670.7 435.8 671.7 437.6 C672.7 439.3 673.8 441.0 674.8 442.8 C675.8 444.5 676.8 446.2 677.8 448.0 C678.8 449.7 679.9 451.5 680.9 453.2 C681.9 455.0 682.8 456.7 683.8 458.5 C684.8 460.2 685.8 462.0 686.8 463.8 C687.8 465.5 688.8 467.3 689.7 469.0 C690.7 470.8 691.7 472.6 692.6 474.3 C693.6 476.1 694.5 477.9 695.5 479.6 C696.5 481.4 697.4 483.2 698.4 485.0 C699.3 486.7 700.2 488.5 701.2 490.3 C702.1 492.1 703.1 493.9 704.0 495.6 C704.9 497.4 705.9 499.2 706.8 501.0 C707.7 502.8 708.6 504.6 709.6 506.4 C710.5 508.2 711.4 509.9 712.3 511.7 C713.2 513.5 714.1 515.3 715.1 517.1 C716.0 518.9 716.9 520.7 717.8 522.5 C718.7 524.3 719.6 526.1 720.5 527.9 C721.4 529.7 722.3 531.5 723.2 533.3 C724.1 535.1 725.0 536.9 725.9 538.7 C726.8 540.5 727.7 542.3 728.6 544.1 C729.5 545.9 730.4 547.7 731.3 549.6 C732.2 551.4 733.1 553.2 734.0 555.0 C734.9 556.8 735.8 558.6 736.7 560.4 C737.6 562.2 738.5 564.0 739.4 565.8 C740.3 567.6 741.2 569.4 742.1 571.3 C743.0 573.1 743.9 574.9 744.8 576.7 C745.7 578.5 746.6 580.3 747.5 582.1 C748.4 583.9 749.3 585.7 750.2 587.5 C751.1 589.4 752.1 591.2 753.0 593.0 C753.9 594.8 754.8 596.6 755.7 598.4 C756.6 600.2 757.5 602.0 758.4 603.8 C759.4 605.6 760.3 607.4 761.2 609.2 C762.1 611.1 763.1 612.9 764.0 614.7 C764.9 616.5 766.3 619.2 766.8 620.1"/>
<path d="M132.2 182.6 C133.2 182.6 136.2 182.6 138.2 182.6 C140.2 182.7 142.2 182.7 144.3 182.7 C146.3 182.8 148.3 182.8 150.3 182.9 C152.3 182.9 154.3 183.0 156.3 183.0 C158.3 183.1 160.3 183.1 162.4 183.2 C164.4 183.2 166.4 183.3 168.4 183.4 C170.4 183.4 172.4 183.5 174.4 183.6 C176.4 183.6 178.5 183.7 180.5 183.8 C182.5 183.9 184.5 183.9 186.5 184.0 C188.5 184.1 190.5 184.2 192.5 184.3 C194.6 184.3 196.6 184.4 198.6 184.5 C200.6 184.6 202.6 184.7 204.6 184.8 C206.6 184.9 208.7 185.0 210.7 185.1 C212.7 185.2 214.7 185.3 216.7 185.4 C218.7 185.5 220.7 185.6 222.8 185.7 C224.8 185.8 226.8 185.9 228.8 186.1 C230.8 186.2 232.8 186.3 234.8 186.4 C236.9 186.5 238.9 186.6 240.9 186.7 C242.9 186.9 244.9 187.0 246.9 187.1 C248.9 187.2 251.0 187.3 253.0 187.5 C255.0 187.6 257.0 187.7 259.0 187.8 C261.0 188.0 263.0 188.1 265.0 188.2 C267.1 188.3 269.1 188.5 271.1 188.6 C273.1 188.7 275.1 188.8 277.1 189.0 C279.1 189.1 281.1 189.2 283.2 189.4 C285.2 189.5 287.2 189.6 289.2 189.7 C291.2 189.9 293.2 190.0 295.2 190.1 C297.2 190.3 299.2 190.4 301.3 190.5 C303.3 190.7 305.3 190.8 307.3 190.9 C309.3 191.0 311.3 191.2 313.3 191.3 C315.3 191.4 317.3 191.6 319.3 191.7 C321.3 191.8 323.4 191.9 325.4 192.1 C327.4 192.2 329.4 192.3 331.4 192.4 C333.4 192.6 335.4 192.7 337.4 192.8 C339.4 192.9 341.4 193.1 343.4 193.2 C345.4 193.3 347.4 193.4 349.4 193.6 C351.4 193.7 353.4 193.8 355.4 193.9 C357.4 194.0 359.4 194.2 361.4 194.3 C363.4 194.4 365.4 194.5 367.4 194.6 C369.4 194.8 371.5 194.9 373.5 195.0 C375.5 195.1 377.5 195.3 379.5 195.4 C381.5 195.5 383.5 195.6 385.5 195.8 C387.5 195.9 389.5 196.0 391.5 196.2 C393.5 196.3 395.5 196.5 397.5 196.6 C399.5 196.8 401.5 196.9 403.5 197.1 C405.5 197.2 407.5 197.4 409.5 197.5 C411.5 197.7 413.5 197.9 415.5 198.0 C417.5 198.2 419.5 198.4 421.5 198.6 C423.5 198.7 425.5 198.9 427.5 199.1 C429.5 199.3 431.5 199.5 433.6 199.7 C435.6 199.9 437.6 200.2 439.6 200.4 C441.6 200.6 443.6 200.8 445.6 201.1 C447.6 201.3 449.6 201.5 451.6 201.8 C453.6 202.0 455.6 202.3 457.7 202.5 C459.7 202.8 461.7 203.1 463.7 203.4 C465.7 203.6 467.7 203.9 469.7 204.2 C471.7 204.5 473.7 204.8 475.7 205.1 C477.7 205.5 479.7 205.8 481.7 206.1 C483.7 206.4 485.7 206.8 487.7 207.1 C489.7 207.5 491.7 207.8 493.7 208.2 C495.7 208.6 497.6 208.9 499.6 209.3 C501.6 209.7 503.6 210.1 505.6 210.5 C507.6 210.9 509.5 211.3 511.5 211.8 C513.5 212.2 515.5 212.6 517.4 213.1 C519.4 213.5 521.4 214.0 523.3 214.5 C525.3 214.9 527.3 215.4 529.2 215.9 C531.2 216.4 533.1 216.9 535.1 217.4 C537.0 217.9 539.0 218.5 540.9 219.0 C542.8 219.5 544.8 220.1 546.7 220.7 C548.6 221.2 550.6 221.8 552.5 222.4 C554.4 223.0 556.3 223.6 558.2 224.2 C560.1 224.8 562.1 225.4 564.0 226.1 C565.9 226.7 567.8 227.4 569.6 228.0 C571.5 228.7 573.4 229.4 575.3 230.1 C577.2 230.8 579.1 231.5 580.9 232.2 C582.8 232.9 584.7 233.7 586.5 234.4 C588.4 235.2 590.2 235.9 592.1 236.7 C593.9 237.5 595.8 238.3 597.6 239.1 C599.4 239.9 601.2 240.7 603.1 241.5 C604.9 242.4 606.7 243.2 608.5 244.1 C610.3 245.0 612.1 245.9 613.9 246.8 C615.7 247.7 617.4 248.6 619.2 249.5 C621.0 250.5 622.7 251.4 624.5 252.4 C626.3 253.3 628.0 254.3 629.7 255.3 C631.5 256.3 633.2 257.3 634.9 258.4 C636.7 259.4 638.4 260.4 640.1 261.5 C641.8 262.5 643.5 263.6 645.2 264.7 C646.9 265.8 648.6 266.9 650.2 268.0 C651.9 269.1 653.6 270.3 655.2 271.4 C656.9 272.5 658.5 273.7 660.2 274.9 C661.8 276.0 663.4 277.2 665.1 278.4 C666.7 279.6 668.3 280.8 669.9 282.1 C671.5 283.3 673.1 284.5 674.7 285.8 C676.3 287.0 677.8 288.3 679.4 289.6 C681.0 290.8 682.5 292.1 684.1 293.4 C685.6 294.7 687.2 296.0 688.7 297.4 C690.2 298.7 691.7 300.0 693.2 301.4 C694.7 302.7 696.2 304.1 697.7 305.4 C699.2 306.8 700.7 308.2 702.2 309.6 C703.6 311.0 705.1 312.4 706.5 313.8 C708.0 315.2 709.4 316.6 710.9 318.0 C712.3 319.5 713.7 320.9 715.1 322.3 C716.5 323.8 717.9 325.3 719.3 326.7 C720.7 328.2 722.1 329.7 723.4 331.2 C724.8 332.6 726.2 334.1 727.5 335.6 C728.8 337.1 730.2 338.7 731.5 340.2 C732.8 341.7 734.1 343.2 735.4 344.8 C736.7 346.3 738.0 347.8 739.3 349.4 C740.6 350.9 741.9 352.5 743.1 354.1 C744.4 355.6 745.7 357.2 746.9 358.8 C748.2 360.4 749.4 361.9 750.6 363.5 C751.9 365.1 753.1 366.7 754.3 368.3 C755.5 369.9 756.7 371.5 757.9 373.1 C759.1 374.8 760.3 376.4 761.5 378.0 C762.7 379.6 763.9 381.3 765.0 382.9 C766.2 384.5 767.4 386.2 768.5 387.8 C769.7 389.5 770.8 391.1 772.0 392.8 C773.1 394.4 774.3 396.1 775.4 397.7 C776.5 399.4 777.6 401.1 778.8 402.7 C779.9 404.4 781.0 406.1 782.1 407.8 C783.2 409.5 784.3 411.1 785.4 412.8 C786.5 414.5 787.6 416.2 788.6 417.9 C789.7 419.6 790.8 421.3 791.9 423.0 C792.9 424.7 794.0 426.4 795.1 428.1 C796.1 429.9 797.2 431.6 798.2 433.3 C799.3 435.0 800.3 436.7 801.3 438.5 C802.4 440.2 803.4 441.9 804.4 443.7 C805.4 445.4 806.5 447.1 807.5 448.9 C808.5 450.6 809.5 452.4 810.5 454.1 C811.5 455.9 812.5 457.6 813.5 459.4 C814.5 461.1 815.4 462.9 816.4 464.6 C817.4 466.4 818.4 468.2 819.3 469.9 C820.3 471.7 821.3 473.5 822.2 475.2 C823.2 477.0 824.2 478.8 825.1 480.5 C826.1 482.3 827.0 484.1 827.9 485.9 C828.9 487.7 829.8 489.4 830.7 491.2 C831.7 493.0 832.6 494.8 833.5 496.6 C834.5 498.4 835.4 500.2 836.3 502.0 C837.2 503.8 838.1 505.6 839.0 507.4 C840.0 509.2 840.9 510.9 841.8 512.7 C842.7 514.5 843.6 516.3 844.5 518.1 C845.4 519.9 846.3 521.7 847.2 523.5 C848.1 525.3 849.0 527.1 849.9 529.0 C850.8 530.8 851.7 532.6 852.6 534.4 C853.5 536.2 854.4 538.0 855.3 539.8 C856.2 541.6 857.1 543.4 858.0 545.2 C858.9 547.0 859.8 548.8 860.7 550.6 C861.6 552.4 862.5 554.2 863.4 556.0 C864.3 557.8 865.2 559.6 866.1 561.4 C867.1 563.2 868.0 564.9 868.9 566.7 C869.8 568.5 870.7 570.3 871.6 572.1 C872.6 573.9 873.5 575.7 874.4 577.5 C875.4 579.3 876.3 581.0 877.2 582.8 C878.2 584.6 879.1 586.4 880.1 588.1 C881.0 589.9 882.0 591.7 882.9 593.5 C883.9 595.2 884.8 597.0 885.8 598.8 C886.8 600.5 887.8 602.3 888.7 604.0 C889.7 605.8 890.7 607.6 891.7 609.3 C892.7 611.1 893.7 612.8 894.7 614.5 C895.7 616.3 897.3 618.9 897.8 619.8"/>
<path d="M132.6 182.2 C133.6 182.2 136.6 182.1 138.6 182.1 C140.7 182.1 142.7 182.1 144.7 182.1 C146.7 182.0 148.7 182.0 150.8 182.0 C152.8 182.0 154.8 182.0 156.8 182.0 C158.8 182.0 160.8 182.0 162.9 182.0 C164.9 182.1 166.9 182.1 168.9 182.1 C170.9 182.1 172.9 182.1 175.0 182.2 C177.0 182.2 179.0 182.2 181.0 182.3 C183.0 182.3 185.1 182.3 187.1 182.4 C189.1 182.4 191.1 182.4 193.1 182.5 C195.1 182.5 197.2 182.6 199.2 182.6 C201.2 182.6 203.2 182.7 205.2 182.7 C207.3 182.8 209.3 182.8 211.3 182.9 C213.3 182.9 215.3 183.0 217.4 183.0 C219.4 183.1 221.4 183.1 223.4 183.2 C225.4 183.2 227.4 183.3 229.5 183.3 C231.5 183.4 233.5 183.5 235.5 183.5 C237.5 183.6 239.6 183.6 241.6 183.7 C243.6 183.7 245.6 183.8 247.6 183.8 C249.7 183.9 251.7 183.9 253.7 183.9 C255.7 184.0 257.7 184.0 259.8 184.1 C261.8 184.1 263.8 184.2 265.8 184.2 C267.8 184.2 269.9 184.3 271.9 184.3 C273.9 184.3 275.9 184.4 277.9 184.4 C280.0 184.4 282.0 184.4 284.0 184.5 C286.0 184.5 288.0 184.5 290.1 184.5 C292.1 184.5 294.1 184.5 296.1 184.5 C298.1 184.5 300.1 184.6 302.2 184.5 C304.2 184.5 306.2 184.5 308.2 184.5 C310.2 184.5 312.3 184.5 314.3 184.5 C316.3 184.5 318.3 184.4 320.3 184.4 C322.4 184.4 324.4 184.3 326.4 184.3 C328.4 184.2 330.4 184.2 332.5 184.1 C334.5 184.1 336.5 184.0 338.5 183.9 C340.5 183.9 342.5 183.8 344.6 183.7 C346.6 183.6 348.6 183.5 350.6 183.5 C352.6 183.4 354.7 183.3 356.7 183.2 C358.7 183.1 360.7 183.0 362.7 182.9 C364.7 182.9 366.8 182.8 368.8 182.7 C370.8 182.6 372.8 182.6 374.8 182.5 C376.8 182.5 378.8 182.4 380.9 182.4 C382.9 182.4 384.9 182.4 386.9 182.4 C388.9 182.4 390.9 182.4 392.9 182.5 C394.9 182.5 397.0 182.6 399.0 182.6 C401.0 182.7 403.0 182.9 405.0 183.0 C407.0 183.1 409.0 183.3 411.0 183.4 C413.0 183.6 415.0 183.7 417.0 183.9 C419.1 184.1 421.1 184.3 423.1 184.4 C425.1 184.6 427.1 184.8 429.1 184.9 C431.1 185.1 433.1 185.2 435.1 185.4 C437.1 185.5 439.2 185.7 441.2 185.8 C443.2 186.0 445.2 186.1 447.2 186.3 C449.2 186.4 451.2 186.5 453.2 186.7 C455.3 186.8 457.3 187.0 459.3 187.1 C461.3 187.2 463.3 187.4 465.3 187.5 C467.3 187.6 469.3 187.8 471.4 187.9 C473.4 188.0 475.4 188.1 477.4 188.3 C479.4 188.4 481.4 188.5 483.4 188.7 C485.5 188.8 487.5 188.9 489.5 189.0 C491.5 189.2 493.5 189.3 495.5 189.4 C497.6 189.6 499.6 189.7 501.6 189.8 C503.6 190.0 505.6 190.1 507.6 190.2 C509.6 190.4 511.7 190.5 513.7 190.7 C515.7 190.8 517.7 191.0 519.7 191.1 C521.7 191.3 523.7 191.4 525.7 191.6 C527.8 191.7 529.8 191.9 531.8 192.0 C533.8 192.2 535.8 192.4 537.8 192.5 C539.8 192.7 541.8 192.9 543.9 193.0 C545.9 193.2 547.9 193.4 549.9 193.6 C551.9 193.8 553.9 194.0 555.9 194.2 C557.9 194.4 559.9 194.6 561.9 194.8 C563.9 195.0 565.9 195.2 568.0 195.4 C570.0 195.6 572.0 195.8 574.0 196.1 C576.0 196.3 578.0 196.5 580.0 196.8 C582.0 197.0 584.0 197.3 586.0 197.5 C588.0 197.8 590.0 198.0 592.0 198.3 C594.0 198.6 596.0 198.9 598.0 199.1 C600.0 199.4 602.0 199.7 604.0 200.0 C606.0 200.3 607.9 200.6 609.9 200.9 C611.9 201.2 613.9 201.6 615.9 201.9 C617.9 202.2 619.9 202.6 621.9 202.9 C623.9 203.3 625.9 203.6 627.8 204.0 C629.8 204.3 631.8 204.7 633.8 205.1 C635.8 205.5 637.7 205.9 639.7 206.3 C641.7 206.7 643.7 207.1 645.7 207.5 C647.6 207.9 649.6 208.4 651.6 208.8 C653.5 209.2 655.5 209.7 657.5 210.2 C659.4 210.6 661.4 211.1 663.4 211.6 C665.3 212.1 667.3 212.5 669.2 213.1 C671.2 213.6 673.1 214.1 675.1 214.6 C677.0 215.1 679.0 215.7 680.9 216.2 C682.8 216.8 684.8 217.3 686.7 217.9 C688.7 218.5 690.6 219.1 692.5 219.7 C694.4 220.2 696.4 220.9 698.3 221.5 C700.2 222.1 702.1 222.7 704.0 223.4 C705.9 224.0 707.8 224.7 709.7 225.4 C711.6 226.0 713.5 226.7 715.4 227.4 C717.3 228.1 719.2 228.8 721.1 229.6 C722.9 230.3 724.8 231.0 726.7 231.8 C728.6 232.5 730.4 233.3 732.3 234.1 C734.1 234.8 736.0 235.6 737.8 236.4 C739.7 237.3 741.5 238.1 743.4 238.9 C745.2 239.8 747.0 240.6 748.8 241.5 C750.7 242.3 752.5 243.2 754.3 244.1 C756.1 245.0 757.9 245.9 759.7 246.9 C761.5 247.8 763.3 248.7 765.0 249.7 C766.8 250.6 768.6 251.6 770.4 252.6 C772.1 253.6 773.9 254.6 775.6 255.6 C777.4 256.6 779.1 257.6 780.9 258.7 C782.6 259.7 784.3 260.8 786.0 261.9 C787.7 262.9 789.4 264.0 791.1 265.1 C792.8 266.2 794.5 267.3 796.2 268.5 C797.9 269.6 799.5 270.7 801.2 271.9 C802.9 273.1 804.5 274.2 806.1 275.4 C807.8 276.6 809.4 277.8 811.0 279.0 C812.6 280.2 814.2 281.5 815.8 282.7 C817.4 284.0 819.0 285.2 820.6 286.5 C822.1 287.7 823.7 289.0 825.2 290.3 C826.8 291.6 828.3 292.9 829.8 294.3 C831.4 295.6 832.9 296.9 834.4 298.3 C835.9 299.6 837.4 301.0 838.8 302.4 C840.3 303.7 841.8 305.1 843.2 306.5 C844.7 307.9 846.1 309.4 847.5 310.8 C849.0 312.2 850.4 313.6 851.8 315.1 C853.2 316.5 854.6 318.0 856.0 319.5 C857.4 320.9 858.8 322.4 860.1 323.9 C861.5 325.4 862.8 326.9 864.2 328.4 C865.5 329.9 866.9 331.4 868.2 332.9 C869.5 334.4 870.8 336.0 872.2 337.5 C873.5 339.0 874.8 340.6 876.1 342.1 C877.3 343.7 878.6 345.3 879.9 346.8 C881.2 348.4 882.4 350.0 883.7 351.5 C885.0 353.1 886.2 354.7 887.5 356.3 C888.7 357.9 889.9 359.5 891.2 361.1 C892.4 362.7 893.6 364.3 894.8 365.9 C896.0 367.5 897.2 369.1 898.4 370.7 C899.6 372.4 900.8 374.0 902.0 375.6 C903.2 377.2 904.4 378.9 905.5 380.5 C906.7 382.2 907.9 383.8 909.0 385.5 C910.2 387.1 911.3 388.8 912.5 390.4 C913.6 392.1 914.8 393.7 915.9 395.4 C917.0 397.1 918.1 398.8 919.3 400.4 C920.4 402.1 921.5 403.8 922.6 405.5 C923.7 407.2 924.8 408.8 925.9 410.5 C927.0 412.2 928.1 413.9 929.1 415.6 C930.2 417.3 931.3 419.0 932.4 420.8 C933.4 422.5 934.5 424.2 935.6 425.9 C936.6 427.6 937.7 429.3 938.7 431.0 C939.8 432.8 940.8 434.5 941.9 436.2 C942.9 438.0 943.9 439.7 945.0 441.4 C946.0 443.2 947.0 444.9 948.0 446.7 C949.0 448.4 950.1 450.1 951.1 451.9 C952.1 453.6 953.1 455.4 954.1 457.1 C955.1 458.9 956.1 460.7 957.1 462.4 C958.0 464.2 959.0 465.9 960.0 467.7 C961.0 469.5 962.0 471.2 962.9 473.0 C963.9 474.8 964.9 476.6 965.9 478.3 C966.8 480.1 967.8 481.9 968.7 483.7 C969.7 485.4 970.7 487.2 971.6 489.0 C972.6 490.8 973.5 492.6 974.5 494.4 C975.4 496.2 976.3 497.9 977.3 499.7 C978.2 501.5 979.2 503.3 980.1 505.1 C981.0 506.9 981.9 508.7 982.9 510.5 C983.8 512.3 984.7 514.1 985.6 515.9 C986.6 517.7 987.5 519.5 988.4 521.3 C989.3 523.1 990.2 524.9 991.1 526.7 C992.0 528.5 992.9 530.3 993.9 532.2 C994.8 534.0 995.7 535.8 996.6 537.6 C997.5 539.4 998.4 541.2 999.3 543.0 C1000.2 544.8 1001.1 546.6 1001.9 548.5 C1002.8 550.3 1003.7 552.1 1004.6 553.9 C1005.5 555.7 1006.4 557.5 1007.3 559.3 C1008.2 561.2 1009.1 563.0 1009.9 564.8 C1010.8 566.6 1011.7 568.4 1012.6 570.2 C1013.5 572.0 1014.4 573.9 1015.2 575.7 C1016.1 577.5 1017.0 579.3 1017.9 581.1 C1018.8 582.9 1019.6 584.8 1020.5 586.6 C1021.4 588.4 1022.3 590.2 1023.1 592.0 C1024.0 593.8 1024.9 595.6 1025.8 597.5 C1026.6 599.3 1027.5 601.1 1028.4 602.9 C1029.3 604.7 1030.1 606.5 1031.0 608.3 C1031.9 610.1 1032.8 611.9 1033.6 613.8 C1034.5 615.6 1035.8 618.3 1036.3 619.2"/>
<path d="M132.6 183.0 C133.6 183.0 136.6 183.0 138.6 183.0 C140.7 183.0 142.7 183.0 144.7 183.0 C146.7 183.0 148.7 183.0 150.7 183.0 C152.7 183.0 154.7 183.0 156.8 183.0 C158.8 183.0 160.8 183.1 162.8 183.1 C164.8 183.1 166.8 183.1 168.8 183.1 C170.8 183.1 172.9 183.1 174.9 183.1 C176.9 183.1 178.9 183.1 180.9 183.1 C182.9 183.1 184.9 183.1 187.0 183.1 C189.0 183.1 191.0 183.1 193.0 183.1 C195.0 183.1 197.0 183.1 199.0 183.1 C201.1 183.1 203.1 183.1 205.1 183.0 C207.1 183.0 209.1 183.0 211.1 183.0 C213.1 183.0 215.2 183.0 217.2 183.0 C219.2 183.0 221.2 183.0 223.2 183.0 C225.2 183.0 227.2 183.0 229.3 183.0 C231.3 183.0 233.3 183.0 235.3 183.0 C237.3 183.0 239.3 183.0 241.3 183.0 C243.4 183.0 245.4 183.0 247.4 183.0 C249.4 183.0 251.4 183.0 253.4 183.0 C255.4 183.0 257.5 183.0 259.5 183.0 C261.5 183.0 263.5 183.0 265.5 183.0 C267.5 183.0 269.5 183.0 271.6 183.0 C273.6 183.0 275.6 183.0 277.6 183.0 C279.6 183.0 281.6 183.0 283.7 183.0 C285.7 183.0 287.7 183.0 289.7 183.0 C291.7 183.0 293.7 183.0 295.7 183.0 C297.8 183.0 299.8 183.0 301.8 183.0 C303.8 183.0 305.8 183.0 307.8 183.0 C309.8 183.0 311.9 183.0 313.9 183.0 C315.9 183.0 317.9 183.0 319.9 183.0 C321.9 183.0 323.9 183.0 326.0 183.0 C328.0 183.0 330.0 183.0 332.0 183.0 C334.0 183.0 336.0 183.0 338.1 183.0 C340.1 183.0 342.1 183.0 344.1 183.1 C346.1 183.1 348.1 183.1 350.1 183.1 C352.2 183.1 354.2 183.1 356.2 183.1 C358.2 183.1 360.2 183.1 362.2 183.1 C364.2 183.2 366.3 183.2 368.3 183.2 C370.3 183.2 372.3 183.2 374.3 183.2 C376.3 183.2 378.3 183.3 380.4 183.3 C382.4 183.3 384.4 183.3 386.4 183.3 C388.4 183.3 390.4 183.4 392.4 183.4 C394.5 183.4 396.5 183.4 398.5 183.5 C400.5 183.5 402.5 183.5 404.5 183.5 C406.5 183.5 408.6 183.6 410.6 183.6 C412.6 183.6 414.6 183.6 416.6 183.7 C418.6 183.7 420.6 183.7 422.6 183.8 C424.7 183.8 426.7 183.8 428.7 183.9 C430.7 183.9 432.7 183.9 434.7 184.0 C436.7 184.0 438.7 184.0 440.8 184.1 C442.8 184.1 444.8 184.1 446.8 184.2 C448.8 184.2 450.8 184.3 452.8 184.3 C454.8 184.3 456.9 184.4 458.9 184.4 C460.9 184.5 462.9 184.5 464.9 184.6 C466.9 184.6 468.9 184.7 470.9 184.7 C473.0 184.7 475.0 184.8 477.0 184.9 C479.0 184.9 481.0 185.0 483.0 185.0 C485.0 185.1 487.0 185.1 489.0 185.2 C491.1 185.2 493.1 185.3 495.1 185.4 C497.1 185.4 499.1 185.5 501.1 185.6 C503.1 185.6 505.1 185.7 507.1 185.7 C509.2 185.8 511.2 185.9 513.2 186.0 C515.2 186.0 517.2 186.1 519.2 186.2 C521.2 186.3 523.2 186.3 525.2 186.4 C527.2 186.5 529.3 186.6 531.3 186.7 C533.3 186.7 535.3 186.8 537.3 186.9 C539.3 187.0 541.3 187.1 543.3 187.2 C545.3 187.3 547.3 187.4 549.4 187.5 C551.4 187.5 553.4 187.6 555.4 187.7 C557.4 187.8 559.4 187.9 561.4 188.0 C563.4 188.2 565.4 188.3 567.4 188.4 C569.5 188.5 571.5 188.6 573.5 188.7 C575.5 188.8 577.5 188.9 579.5 189.0 C581.5 189.2 583.5 189.3 585.5 189.4 C587.5 189.5 589.6 189.7 591.6 189.8 C593.6 189.9 595.6 190.1 597.6 190.2 C599.6 190.3 601.6 190.5 603.6 190.6 C605.6 190.8 607.6 190.9 609.6 191.1 C611.6 191.2 613.7 191.4 615.7 191.6 C617.7 191.7 619.7 191.9 621.7 192.1 C623.7 192.2 625.7 192.4 627.7 192.6 C629.7 192.8 631.7 192.9 633.7 193.1 C635.7 193.3 637.7 193.5 639.7 193.7 C641.7 193.9 643.7 194.1 645.7 194.3 C647.8 194.5 649.8 194.8 651.8 195.0 C653.8 195.2 655.8 195.4 657.8 195.7 C659.8 195.9 661.8 196.1 663.8 196.4 C665.8 196.6 667.8 196.9 669.8 197.1 C671.8 197.4 673.8 197.6 675.8 197.9 C677.8 198.2 679.8 198.5 681.8 198.7 C683.8 199.0 685.8 199.3 687.8 199.6 C689.8 199.9 691.8 200.2 693.8 200.5 C695.8 200.8 697.8 201.2 699.8 201.5 C701.8 201.8 703.7 202.1 705.7 202.5 C707.7 202.8 709.7 203.2 711.7 203.5 C713.7 203.9 715.7 204.2 717.7 204.6 C719.7 205.0 721.7 205.4 723.7 205.8 C725.6 206.2 727.6 206.6 729.6 207.0 C731.6 207.4 733.6 207.8 735.5 208.3 C737.5 208.7 739.5 209.1 741.5 209.6 C743.4 210.0 745.4 210.5 747.4 211.0 C749.3 211.5 751.3 211.9 753.2 212.4 C755.2 212.9 757.1 213.5 759.1 214.0 C761.0 214.5 763.0 215.1 764.9 215.6 C766.9 216.2 768.8 216.7 770.7 217.3 C772.6 217.9 774.6 218.5 776.5 219.1 C778.4 219.7 780.3 220.3 782.2 220.9 C784.1 221.6 786.0 222.2 787.9 222.9 C789.8 223.5 791.7 224.2 793.6 224.9 C795.5 225.6 797.4 226.3 799.2 227.1 C801.1 227.8 803.0 228.5 804.8 229.3 C806.7 230.0 808.5 230.8 810.4 231.6 C812.2 232.4 814.1 233.2 815.9 234.0 C817.7 234.9 819.6 235.7 821.4 236.5 C823.2 237.4 825.0 238.3 826.8 239.1 C828.6 240.0 830.4 240.9 832.2 241.8 C834.0 242.7 835.7 243.7 837.5 244.6 C839.3 245.6 841.1 246.5 842.8 247.5 C844.6 248.4 846.3 249.4 848.1 250.4 C849.8 251.4 851.5 252.4 853.3 253.5 C855.0 254.5 856.7 255.5 858.4 256.6 C860.1 257.6 861.8 258.7 863.5 259.8 C865.2 260.9 866.9 261.9 868.6 263.1 C870.3 264.2 871.9 265.3 873.6 266.4 C875.2 267.5 876.9 268.7 878.5 269.8 C880.2 271.0 881.8 272.2 883.4 273.3 C885.1 274.5 886.7 275.7 888.3 276.9 C889.9 278.1 891.5 279.3 893.1 280.6 C894.7 281.8 896.3 283.1 897.9 284.3 C899.4 285.6 901.0 286.8 902.6 288.1 C904.1 289.4 905.7 290.7 907.2 292.0 C908.7 293.3 910.3 294.6 911.8 295.9 C913.3 297.2 914.8 298.5 916.3 299.9 C917.8 301.2 919.3 302.6 920.8 303.9 C922.3 305.3 923.8 306.7 925.2 308.1 C926.7 309.5 928.2 310.8 929.6 312.3 C931.0 313.7 932.5 315.1 933.9 316.5 C935.3 317.9 936.7 319.4 938.2 320.8 C939.6 322.2 941.0 323.7 942.3 325.2 C943.7 326.6 945.1 328.1 946.5 329.6 C947.8 331.1 949.2 332.5 950.5 334.0 C951.9 335.5 953.2 337.1 954.5 338.6 C955.9 340.1 957.2 341.6 958.5 343.1 C959.8 344.7 961.1 346.2 962.4 347.8 C963.7 349.3 964.9 350.9 966.2 352.4 C967.5 354.0 968.7 355.6 970.0 357.2 C971.2 358.7 972.4 360.3 973.7 361.9 C974.9 363.5 976.1 365.1 977.3 366.7 C978.5 368.3 979.7 370.0 980.9 371.6 C982.1 373.2 983.3 374.8 984.5 376.5 C985.7 378.1 986.8 379.7 988.0 381.4 C989.2 383.0 990.3 384.7 991.5 386.3 C992.6 388.0 993.8 389.7 994.9 391.3 C996.0 393.0 997.2 394.7 998.3 396.3 C999.4 398.0 1000.5 399.7 1001.6 401.4 C1002.7 403.1 1003.8 404.8 1004.9 406.5 C1006.0 408.2 1007.1 409.9 1008.2 411.6 C1009.3 413.3 1010.4 415.0 1011.4 416.7 C1012.5 418.4 1013.6 420.1 1014.6 421.8 C1015.7 423.6 1016.8 425.3 1017.8 427.0 C1018.9 428.7 1019.9 430.5 1021.0 432.2 C1022.0 433.9 1023.1 435.6 1024.1 437.4 C1025.1 439.1 1026.2 440.9 1027.2 442.6 C1028.2 444.3 1029.2 446.1 1030.3 447.8 C1031.3 449.6 1032.3 451.3 1033.3 453.0 C1034.3 454.8 1035.3 456.5 1036.4 458.3 C1037.4 460.0 1038.4 461.8 1039.4 463.5 C1040.4 465.3 1041.4 467.0 1042.4 468.8 C1043.4 470.5 1044.4 472.3 1045.4 474.0 C1046.4 475.8 1047.4 477.5 1048.3 479.3 C1049.3 481.1 1050.3 482.8 1051.3 484.6 C1052.3 486.3 1053.3 488.1 1054.3 489.8 C1055.2 491.6 1056.2 493.3 1057.2 495.1 C1058.2 496.9 1059.1 498.6 1060.1 500.4 C1061.1 502.1 1062.0 503.9 1063.0 505.7 C1064.0 507.4 1064.9 509.2 1065.9 511.0 C1066.9 512.7 1067.8 514.5 1068.8 516.3 C1069.7 518.0 1070.7 519.8 1071.6 521.6 C1072.6 523.3 1073.5 525.1 1074.4 526.9 C1075.4 528.7 1076.3 530.4 1077.3 532.2 C1078.2 534.0 1079.1 535.8 1080.1 537.6 C1081.0 539.3 1081.9 541.1 1082.8 542.9 C1083.8 544.7 1084.7 546.5 1085.6 548.3 C1086.5 550.0 1087.4 551.8 1088.3 553.6 C1089.2 555.4 1090.1 557.2 1091.0 559.0 C1091.9 560.8 1092.8 562.6 1093.7 564.4 C1094.6 566.2 1095.5 568.0 1096.4 569.8 C1097.3 571.6 1098.2 573.4 1099.1 575.2 C1099.9 577.0 1100.8 578.8 1101.7 580.6 C1102.6 582.4 1103.4 584.3 1104.3 586.1 C1105.1 587.9 1106.0 589.7 1106.9 591.5 C1107.7 593.4 1108.6 595.2 1109.4 597.0 C1110.3 598.8 1111.1 600.7 1112.0 602.5 C1112.8 604.3 1113.6 606.2 1114.5 608.0 C1115.3 609.8 1116.1 611.7 1116.9 613.5 C1117.8 615.4 1119.0 618.1 1119.4 619.1"/>
<path d="M537.7 642.7 C538.4 643.4 540.6 645.5 542.1 646.7 C543.7 648.0 545.4 649.0 547.1 650.1 C548.8 651.2 550.6 652.2 552.3 653.2 C554.1 654.2 555.9 655.2 557.7 656.2 C559.5 657.3 561.2 658.3 562.9 659.4 C564.7 660.5 566.4 661.7 568.0 662.9 C569.7 664.1 571.3 665.4 572.8 666.7 C574.4 668.0 575.9 669.4 577.3 670.8 C578.8 672.2 580.2 673.6 581.6 675.1 C582.9 676.6 584.2 678.1 585.5 679.7 C586.8 681.2 588.1 682.8 589.3 684.5 C590.5 686.1 591.7 687.7 592.9 689.4 C594.1 691.1 595.2 692.8 596.3 694.5 C597.4 696.2 598.5 698.0 599.6 699.7 C600.7 701.5 601.7 703.2 602.7 705.0 C603.8 706.8 604.8 708.5 605.8 710.3 C606.8 712.1 607.8 713.9 608.8 715.7 C609.8 717.5 610.8 719.2 611.8 721.0 C612.8 722.8 613.8 724.6 614.8 726.4 C615.8 728.1 616.7 729.9 617.7 731.7 C618.6 733.5 619.6 735.3 620.5 737.1 C621.5 738.8 622.4 740.6 623.3 742.4 C624.3 744.2 625.2 746.1 626.1 747.9 C627.0 749.7 627.9 751.5 628.8 753.4 C629.6 755.2 630.5 757.1 631.4 758.9 C632.2 760.8 633.1 762.6 634.0 764.5 C634.9 766.3 635.8 768.1 636.8 769.9 C637.8 771.7 638.8 773.5 639.8 775.2 C640.9 776.9 642.1 778.6 643.2 780.3 C644.4 781.9 645.7 783.5 647.0 785.1 C648.3 786.7 649.6 788.2 651.0 789.7 C652.4 791.2 653.8 792.6 655.3 794.0 C656.8 795.4 658.3 796.8 659.9 798.1 C661.4 799.4 663.0 800.7 664.7 801.9 C666.3 803.1 668.0 804.3 669.7 805.4 C671.4 806.5 673.1 807.6 674.9 808.6 C676.7 809.7 678.5 810.6 680.3 811.6 C682.1 812.5 684.9 813.8 685.8 814.2"/>
<path d="M637.4 642.5 C637.7 643.4 638.6 646.3 639.4 647.9 C640.3 649.5 641.3 650.8 642.5 652.1 C643.6 653.4 645.0 654.4 646.3 655.5 C647.7 656.5 649.2 657.4 650.7 658.2 C652.2 659.1 653.8 659.9 655.3 660.7 C656.9 661.5 658.5 662.3 660.1 663.2 C661.7 664.0 663.2 664.9 664.7 665.8 C666.3 666.7 667.8 667.7 669.2 668.8 C670.6 669.8 672.1 670.9 673.4 672.0 C674.8 673.1 676.1 674.3 677.3 675.5 C678.6 676.7 679.8 678.0 681.0 679.3 C682.2 680.6 683.3 681.9 684.4 683.3 C685.5 684.6 686.6 686.0 687.6 687.4 C688.6 688.9 689.6 690.3 690.6 691.8 C691.6 693.3 692.5 694.8 693.5 696.3 C694.4 697.8 695.3 699.3 696.2 700.9 C697.1 702.4 698.0 704.0 698.8 705.5 C699.7 707.1 700.5 708.7 701.4 710.3 C702.2 711.8 703.1 713.4 703.9 715.0 C704.7 716.6 705.6 718.1 706.4 719.7 C707.3 721.3 708.1 722.8 708.9 724.4 C709.8 725.9 710.6 727.5 711.5 729.0 C712.4 730.6 713.2 732.1 714.1 733.6 C714.9 735.2 715.8 736.7 716.7 738.2 C717.5 739.7 718.4 741.2 719.3 742.8 C720.2 744.3 721.0 745.8 721.9 747.3 C722.8 748.8 723.7 750.4 724.6 751.9 C725.4 753.4 726.3 755.0 727.2 756.5 C728.1 758.0 729.0 759.6 729.9 761.1 C730.8 762.6 731.7 764.2 732.6 765.7 C733.5 767.2 734.4 768.7 735.4 770.2 C736.4 771.7 737.3 773.2 738.3 774.7 C739.3 776.1 740.3 777.6 741.4 779.0 C742.4 780.4 743.5 781.8 744.6 783.2 C745.7 784.6 746.9 785.9 748.0 787.2 C749.2 788.6 750.4 789.8 751.7 791.1 C753.0 792.3 754.3 793.5 755.6 794.7 C756.9 795.8 758.3 797.0 759.7 798.0 C761.1 799.1 762.5 800.2 764.0 801.2 C765.4 802.2 766.9 803.2 768.4 804.1 C769.9 805.1 771.5 806.0 773.0 806.8 C774.6 807.7 776.1 808.5 777.7 809.3 C779.3 810.1 780.9 810.9 782.5 811.6 C784.1 812.3 786.6 813.2 787.4 813.6"/>
<path d="M778.5 642.5 C779.2 643.3 781.4 645.6 782.7 647.2 C784.0 648.9 785.3 650.6 786.5 652.3 C787.7 654.0 788.8 655.7 789.8 657.5 C790.9 659.3 791.9 661.2 792.9 663.0 C793.8 664.8 794.8 666.7 795.6 668.6 C796.5 670.5 797.4 672.4 798.2 674.3 C799.1 676.2 799.9 678.1 800.7 680.1 C801.5 682.0 802.3 683.9 803.2 685.8 C804.0 687.7 804.8 689.7 805.7 691.6 C806.6 693.5 807.5 695.3 808.4 697.2 C809.4 699.1 810.4 700.9 811.4 702.7 C812.4 704.5 813.4 706.4 814.5 708.2 C815.5 710.0 816.6 711.7 817.7 713.5 C818.8 715.3 819.9 717.1 821.0 718.9 C822.1 720.6 823.2 722.4 824.3 724.2 C825.4 726.0 826.5 727.7 827.6 729.5 C828.8 731.2 829.9 733.0 831.1 734.7 C832.2 736.5 833.3 738.2 834.5 740.0 C835.7 741.7 836.8 743.4 838.0 745.1 C839.2 746.9 840.4 748.6 841.6 750.3 C842.8 752.0 844.0 753.7 845.3 755.4 C846.5 757.1 847.7 758.7 849.0 760.4 C850.3 762.1 851.6 763.7 852.9 765.4 C854.2 767.0 855.5 768.6 856.8 770.2 C858.2 771.8 859.6 773.4 861.0 774.9 C862.4 776.5 863.8 778.0 865.2 779.5 C866.7 781.0 868.1 782.5 869.6 783.9 C871.1 785.4 872.7 786.8 874.2 788.1 C875.8 789.5 877.4 790.9 879.0 792.2 C880.6 793.5 882.3 794.7 884.0 795.9 C885.7 797.2 887.4 798.3 889.2 799.5 C891.0 800.6 892.7 801.7 894.6 802.8 C896.4 803.8 898.2 804.8 900.1 805.8 C901.9 806.8 903.8 807.7 905.7 808.6 C907.6 809.5 909.5 810.4 911.5 811.3 C913.4 812.1 915.3 812.9 917.3 813.6 C919.2 814.4 921.2 815.1 923.1 815.8 C925.1 816.5 928.0 817.5 929.0 817.8"/>
<path d="M906.4 640.4 C906.9 641.4 908.2 644.3 909.0 646.2 C909.9 648.1 910.9 649.9 911.8 651.8 C912.7 653.7 913.7 655.6 914.7 657.4 C915.6 659.3 916.6 661.1 917.6 663.0 C918.6 664.8 919.6 666.6 920.6 668.5 C921.7 670.3 922.7 672.1 923.7 673.9 C924.8 675.7 925.9 677.5 926.9 679.3 C928.0 681.1 929.0 682.9 930.1 684.7 C931.2 686.5 932.3 688.3 933.4 690.1 C934.4 691.9 935.5 693.7 936.6 695.5 C937.7 697.3 938.8 699.1 939.9 700.8 C941.0 702.6 942.1 704.4 943.2 706.2 C944.2 708.0 945.3 709.8 946.4 711.5 C947.5 713.3 948.6 715.1 949.7 716.9 C950.8 718.7 951.9 720.4 953.0 722.2 C954.2 724.0 955.3 725.7 956.4 727.5 C957.5 729.3 958.6 731.0 959.8 732.8 C960.9 734.6 962.0 736.3 963.2 738.1 C964.3 739.8 965.5 741.6 966.7 743.3 C967.8 745.1 969.0 746.8 970.2 748.5 C971.4 750.3 972.6 752.0 973.8 753.7 C975.0 755.4 976.2 757.2 977.4 758.9 C978.6 760.6 979.9 762.3 981.1 764.0 C982.4 765.7 983.7 767.3 985.0 769.0 C986.3 770.6 987.6 772.3 988.9 773.9 C990.3 775.5 991.6 777.1 993.0 778.6 C994.4 780.2 995.8 781.7 997.3 783.2 C998.8 784.7 1000.2 786.1 1001.8 787.5 C1003.3 788.9 1004.8 790.3 1006.4 791.6 C1008.0 793.0 1009.7 794.3 1011.3 795.5 C1013.0 796.7 1014.7 797.9 1016.5 799.0 C1018.2 800.2 1020.0 801.2 1021.9 802.3 C1023.7 803.3 1025.5 804.3 1027.4 805.3 C1029.3 806.2 1031.2 807.1 1033.1 808.0 C1035.1 808.9 1037.0 809.7 1039.0 810.5 C1040.9 811.3 1042.9 812.1 1044.9 812.9 C1046.8 813.6 1048.8 814.3 1050.8 815.1 C1052.7 815.8 1055.7 816.8 1056.7 817.1"/>
<path d="M1047.9 640.9 C1048.4 642.0 1050.1 645.4 1051.2 647.6 C1052.3 649.8 1053.4 652.0 1054.5 654.3 C1055.6 656.5 1056.8 658.7 1057.9 660.9 C1059.0 663.1 1060.1 665.3 1061.3 667.6 C1062.4 669.8 1063.6 672.0 1064.7 674.2 C1065.8 676.4 1067.0 678.6 1068.2 680.8 C1069.3 683.0 1070.5 685.2 1071.7 687.4 C1072.9 689.5 1074.0 691.7 1075.2 693.9 C1076.4 696.1 1077.7 698.3 1078.9 700.4 C1080.1 702.6 1081.3 704.7 1082.6 706.9 C1083.8 709.0 1085.1 711.2 1086.3 713.3 C1087.6 715.5 1088.9 717.6 1090.2 719.7 C1091.5 721.8 1092.8 723.9 1094.1 726.1 C1095.4 728.2 1096.8 730.3 1098.1 732.3 C1099.5 734.4 1100.9 736.5 1102.2 738.6 C1103.6 740.6 1105.0 742.7 1106.5 744.7 C1107.9 746.8 1109.3 748.8 1110.8 750.8 C1112.3 752.8 1113.7 754.8 1115.2 756.8 C1116.7 758.8 1118.3 760.8 1119.8 762.8 C1121.4 764.7 1122.9 766.7 1124.5 768.6 C1126.1 770.5 1127.7 772.4 1129.4 774.3 C1131.0 776.1 1132.7 778.0 1134.4 779.8 C1136.1 781.6 1137.9 783.4 1139.6 785.1 C1141.4 786.8 1143.2 788.5 1145.1 790.1 C1146.9 791.8 1148.8 793.4 1150.7 794.9 C1152.6 796.5 1154.6 798.0 1156.6 799.4 C1158.6 800.8 1160.6 802.2 1162.7 803.5 C1164.8 804.9 1166.9 806.1 1169.1 807.3 C1171.2 808.5 1173.4 809.7 1175.7 810.7 C1177.9 811.8 1180.2 812.8 1182.6 813.7 C1184.9 814.6 1187.3 815.5 1189.7 816.2 C1192.2 817.0 1195.9 817.9 1197.2 818.3"/>
<path d="M1127.8 640.9 C1128.3 642.0 1130.1 645.4 1131.2 647.6 C1132.3 649.8 1133.5 652.1 1134.6 654.3 C1135.8 656.5 1136.9 658.7 1138.0 661.0 C1139.2 663.2 1140.3 665.4 1141.5 667.7 C1142.6 669.9 1143.8 672.1 1144.9 674.3 C1146.1 676.5 1147.2 678.8 1148.4 681.0 C1149.6 683.2 1150.8 685.4 1152.0 687.6 C1153.2 689.8 1154.3 692.0 1155.6 694.2 C1156.8 696.4 1158.0 698.6 1159.2 700.7 C1160.5 702.9 1161.7 705.1 1163.0 707.2 C1164.2 709.4 1165.5 711.6 1166.8 713.7 C1168.1 715.8 1169.4 718.0 1170.8 720.1 C1172.1 722.2 1173.4 724.3 1174.8 726.4 C1176.2 728.5 1177.5 730.6 1178.9 732.7 C1180.3 734.8 1181.7 736.8 1183.1 738.9 C1184.6 741.0 1186.0 743.0 1187.5 745.1 C1188.9 747.1 1190.4 749.1 1191.9 751.2 C1193.3 753.2 1194.8 755.2 1196.4 757.2 C1197.9 759.2 1199.4 761.2 1201.0 763.1 C1202.5 765.1 1204.1 767.0 1205.7 769.0 C1207.3 770.9 1208.9 772.8 1210.6 774.7 C1212.3 776.5 1213.9 778.4 1215.7 780.2 C1217.4 782.0 1219.2 783.7 1221.0 785.4 C1222.8 787.2 1224.6 788.8 1226.5 790.5 C1228.4 792.1 1230.4 793.7 1232.4 795.2 C1234.3 796.8 1236.4 798.3 1238.4 799.7 C1240.5 801.1 1242.6 802.5 1244.7 803.8 C1246.8 805.1 1249.0 806.4 1251.2 807.6 C1253.4 808.8 1255.7 809.9 1258.0 811.0 C1260.2 812.0 1262.5 813.0 1264.9 813.9 C1267.2 814.8 1269.6 815.7 1272.0 816.4 C1274.4 817.2 1278.0 818.2 1279.2 818.5"/>
<path d="M339.2 327.0 L347.1 332.9 L348.7 328.9 L350.1 319.1 L352.6 315.7 L358.9 322.0"/>
</g>
<g fill="none" stroke="#000" stroke-width="4" stroke-linejoin="miter">
<path d="M666.3 426.8 C665.1 427.3 661.7 428.8 659.4 429.9 C657.1 431.0 654.9 432.2 652.7 433.4 C650.5 434.6 648.4 435.8 646.3 437.1 C644.1 438.4 642.0 439.8 640.0 441.2 C637.9 442.6 635.9 444.0 633.9 445.5 C631.9 447.0 629.9 448.5 627.9 450.1 C626.0 451.6 624.0 453.2 622.1 454.8 C620.2 456.5 618.3 458.1 616.5 459.8 C614.6 461.5 612.8 463.2 610.9 464.9 C609.1 466.6 607.3 468.3 605.5 470.1 C603.7 471.8 601.9 473.6 600.2 475.4 C598.4 477.2 596.7 479.0 595.0 480.8 C593.2 482.6 591.5 484.4 589.8 486.2 C588.1 488.0 586.4 489.8 584.7 491.6 C583.0 493.4 581.3 495.2 579.7 497.1 C578.0 498.9 576.4 500.8 574.8 502.7 C573.2 504.6 571.6 506.5 570.1 508.4 C568.5 510.4 567.0 512.4 565.5 514.4 C564.1 516.4 562.6 518.5 561.2 520.6 C559.8 522.8 558.5 524.9 557.2 527.2 C556.0 529.4 554.8 531.7 553.9 534.0 C552.9 536.3 552.1 538.8 551.5 541.2 C550.9 543.7 550.5 546.2 550.5 548.7 C550.5 551.1 550.7 553.6 551.4 555.8 C552.1 558.0 553.3 560.1 554.8 561.9 C556.3 563.8 558.3 565.4 560.3 566.9 C562.3 568.3 564.6 569.6 566.9 570.7 C569.2 571.8 571.5 572.7 573.9 573.6 C576.3 574.4 578.7 575.1 581.1 575.7 C583.5 576.4 586.0 576.9 588.4 577.5 C590.9 578.0 593.4 578.5 595.8 579.1 C598.3 579.6 600.7 580.1 603.2 580.6 C605.6 581.1 608.1 581.5 610.6 582.0 C613.0 582.5 615.5 582.9 617.9 583.4 C620.4 583.8 622.9 584.3 625.3 584.7 C627.8 585.1 630.2 585.5 632.7 585.9 C635.2 586.3 637.6 586.7 640.1 587.1 C642.6 587.5 645.0 587.8 647.5 588.2 C650.0 588.6 652.4 588.9 654.9 589.2 C657.4 589.6 659.9 589.9 662.3 590.2 C664.8 590.6 667.3 590.9 669.8 591.2 C672.2 591.5 674.7 591.8 677.2 592.0 C679.7 592.3 682.1 592.6 684.6 592.9 C687.1 593.1 689.6 593.4 692.1 593.7 C694.6 593.9 697.0 594.1 699.5 594.4 C702.0 594.6 704.5 594.8 707.0 595.1 C709.5 595.3 712.0 595.5 714.4 595.7 C716.9 595.9 719.4 596.1 721.9 596.3 C724.4 596.4 726.9 596.6 729.4 596.8 C731.9 597.0 734.4 597.1 736.9 597.3 C739.4 597.4 741.9 597.6 744.4 597.7 C746.9 597.9 749.3 598.0 751.8 598.1 C754.3 598.3 756.8 598.4 759.3 598.5 C761.8 598.6 764.3 598.7 766.8 598.8 C769.3 598.9 771.8 599.0 774.3 599.1 C776.8 599.2 779.3 599.3 781.8 599.4 C784.3 599.5 786.8 599.5 789.3 599.6 C791.8 599.7 794.3 599.7 796.8 599.8 C799.3 599.8 801.9 599.9 804.4 599.9 C806.9 600.0 809.4 600.0 811.9 600.0 C814.4 600.1 816.9 600.1 819.4 600.1 C821.9 600.1 824.4 600.1 826.9 600.1 C829.4 600.1 831.9 600.0 834.4 600.0 C836.9 599.9 839.4 599.9 841.9 599.8 C844.3 599.7 846.8 599.6 849.3 599.4 C851.8 599.3 854.3 599.2 856.8 599.0 C859.3 598.8 861.8 598.6 864.2 598.4 C866.7 598.2 869.2 597.9 871.7 597.6 C874.1 597.4 876.6 597.1 879.1 596.7 C881.6 596.4 884.0 596.0 886.5 595.6 C888.9 595.2 891.4 594.8 893.8 594.3 C896.3 593.8 898.7 593.4 901.2 592.9 C903.6 592.3 906.1 591.8 908.5 591.3 C911.0 590.7 913.4 590.1 915.8 589.5 C918.3 588.9 920.7 588.3 923.1 587.6 C925.5 587.0 927.9 586.3 930.4 585.7 C932.8 585.0 935.2 584.3 937.6 583.6 C940.0 582.9 942.4 582.2 944.8 581.4 C947.2 580.7 949.6 579.9 952.0 579.2 C954.4 578.4 956.8 577.7 959.1 576.9 C961.5 576.1 963.9 575.3 966.3 574.5 C968.6 573.7 971.0 572.9 973.4 572.1 C975.7 571.3 978.1 570.5 980.5 569.7 C982.8 568.9 985.2 568.1 987.5 567.2 C989.9 566.4 992.3 565.6 994.6 564.8 C997.0 563.9 999.3 563.1 1001.7 562.3 C1004.0 561.5 1006.4 560.6 1008.7 559.8 C1011.1 559.0 1013.4 558.1 1015.8 557.3 C1018.1 556.5 1020.5 555.7 1022.9 554.9 C1025.2 554.1 1027.6 553.2 1029.9 552.4 C1032.3 551.6 1034.6 550.8 1037.0 550.0 C1039.4 549.3 1041.7 548.5 1044.1 547.7 C1046.5 546.9 1048.9 546.2 1051.2 545.4 C1053.6 544.6 1056.0 543.9 1058.4 543.2 C1060.8 542.4 1063.2 541.7 1065.5 541.0 C1067.9 540.3 1070.3 539.6 1072.8 538.9 C1075.2 538.2 1077.6 537.5 1080.0 536.9 C1082.4 536.2 1086.0 535.3 1087.3 535.0"/>
<path d="M665.9 426.8 C666.5 425.2 667.6 419.8 669.2 416.9 C670.9 414.0 673.4 411.5 675.9 409.3 C678.3 407.1 681.1 405.3 684.0 403.8 C686.8 402.2 689.8 400.9 692.9 399.9 C695.9 398.8 699.1 398.0 702.4 397.2 C705.6 396.5 708.9 396.0 712.3 395.6 C715.6 395.1 719.1 394.8 722.5 394.5 C725.9 394.1 729.3 393.9 732.7 393.6 C736.1 393.3 739.5 393.0 742.9 392.7 C746.3 392.4 749.7 392.1 753.1 391.8 C756.5 391.5 759.9 391.2 763.3 390.9 C766.7 390.6 770.0 390.3 773.4 390.0 C776.8 389.7 780.1 389.4 783.5 389.1 C786.9 388.8 790.2 388.5 793.6 388.2 C796.9 387.9 800.3 387.6 803.6 387.4 C807.0 387.1 810.3 386.8 813.7 386.5 C817.0 386.2 820.4 385.9 823.7 385.6 C827.0 385.4 830.4 385.1 833.7 384.8 C837.1 384.5 840.4 384.3 843.7 384.0 C847.1 383.7 850.4 383.5 853.7 383.2 C857.0 382.9 860.4 382.7 863.7 382.4 C867.0 382.2 870.4 381.9 873.7 381.7 C877.0 381.4 880.4 381.2 883.7 381.0 C887.0 380.7 890.4 380.5 893.7 380.3 C897.0 380.1 900.4 379.9 903.7 379.7 C907.0 379.5 910.4 379.3 913.7 379.1 C917.1 378.9 920.4 378.7 923.8 378.5 C927.1 378.3 930.5 378.2 933.8 378.0 C937.2 377.8 940.5 377.7 943.9 377.5 C947.2 377.4 950.6 377.2 954.0 377.1 C957.3 377.0 960.7 376.9 964.1 376.7 C967.5 376.6 970.8 376.5 974.2 376.4 C977.6 376.3 981.0 376.3 984.4 376.2 C987.8 376.1 991.2 376.1 994.6 376.0 C998.0 376.0 1003.1 375.9 1004.8 375.9"/>
<path d="M666.2 426.7 C666.2 427.2 666.2 429.0 666.3 430.1 C666.3 431.2 666.4 432.4 666.6 433.5 C666.8 434.6 666.9 435.7 667.2 436.8 C667.4 437.9 667.7 438.9 668.0 440.0 C668.3 441.1 668.6 442.1 669.0 443.2 C669.3 444.2 669.7 445.3 670.1 446.3 C670.5 447.3 671.0 448.4 671.4 449.4 C671.9 450.4 672.4 451.4 672.9 452.4 C673.4 453.4 673.9 454.4 674.4 455.4 C675.0 456.4 675.5 457.4 676.1 458.3 C676.6 459.3 677.2 460.3 677.8 461.3 C678.3 462.2 678.9 463.2 679.5 464.2 C680.1 465.1 680.7 466.1 681.3 467.1 C681.9 468.0 682.5 469.0 683.1 469.9 C683.7 470.9 684.3 471.8 684.8 472.8 C685.4 473.7 686.0 474.7 686.5 475.6 C687.1 476.6 687.9 478.0 688.2 478.5"/>
<path d="M687.2 479.1 C689.1 479.0 694.7 478.7 698.5 478.5 C702.3 478.3 706.0 478.2 709.8 478.1 C713.5 478.1 717.3 478.0 721.0 478.0 C724.8 478.0 728.5 478.0 732.2 478.1 C736.0 478.2 739.7 478.3 743.5 478.4 C747.2 478.6 750.9 478.7 754.7 478.9 C758.4 479.1 762.1 479.4 765.8 479.6 C769.6 479.9 773.3 480.2 777.0 480.5 C780.7 480.8 784.4 481.1 788.2 481.5 C791.9 481.8 795.6 482.2 799.3 482.6 C803.0 483.0 806.7 483.5 810.4 483.9 C814.1 484.4 817.8 484.8 821.5 485.3 C825.2 485.8 828.9 486.3 832.6 486.8 C836.3 487.3 840.0 487.8 843.7 488.4 C847.4 488.9 851.1 489.5 854.8 490.0 C858.5 490.6 862.2 491.1 865.9 491.7 C869.6 492.3 873.3 492.9 877.0 493.5 C880.7 494.0 884.4 494.6 888.1 495.2 C891.8 495.8 895.5 496.4 899.2 497.0 C902.9 497.6 906.6 498.2 910.3 498.8 C913.9 499.4 917.6 500.0 921.3 500.6 C925.0 501.2 928.7 501.7 932.4 502.3 C936.1 502.9 939.8 503.5 943.5 504.0 C947.2 504.5 950.9 505.1 954.6 505.6 C958.3 506.1 962.0 506.6 965.7 507.1 C969.4 507.6 973.1 508.1 976.8 508.5 C980.5 509.0 984.2 509.4 987.9 509.8 C991.6 510.2 995.3 510.6 999.0 511.0 C1002.7 511.3 1006.5 511.7 1010.2 512.0 C1013.9 512.3 1017.6 512.5 1021.3 512.8 C1025.1 513.0 1028.8 513.2 1032.5 513.3 C1036.2 513.5 1040.0 513.6 1043.7 513.7 C1047.4 513.8 1051.2 513.9 1054.9 513.9 C1058.7 513.9 1062.4 513.8 1066.1 513.7 C1069.9 513.7 1075.5 513.4 1077.4 513.3"/>
<path d="M957.2 504.8 C956.9 503.8 955.6 500.5 955.5 498.6 C955.4 496.8 955.9 495.0 956.7 493.5 C957.4 491.9 958.6 490.5 959.9 489.2 C961.2 487.9 962.8 486.8 964.5 485.8 C966.1 484.7 968.0 483.8 969.7 482.9 C971.5 482.0 973.4 481.3 975.2 480.5 C977.0 479.8 978.9 479.1 980.7 478.5 C982.6 477.8 984.4 477.3 986.3 476.7 C988.1 476.2 990.0 475.7 991.9 475.3 C993.8 474.8 995.6 474.4 997.5 474.0 C999.4 473.6 1001.3 473.3 1003.2 473.0 C1005.1 472.6 1007.0 472.4 1008.9 472.1 C1010.8 471.8 1012.7 471.5 1014.6 471.3 C1016.5 471.0 1018.5 470.8 1020.4 470.6 C1022.3 470.3 1024.2 470.1 1026.1 469.8 C1028.0 469.6 1029.9 469.4 1031.9 469.1 C1033.8 468.9 1035.7 468.6 1037.6 468.4 C1039.5 468.1 1041.4 467.8 1043.3 467.5 C1045.2 467.2 1047.1 466.8 1049.0 466.5 C1050.9 466.1 1053.7 465.5 1054.7 465.3"/>
<path d="M1026.5 413.6 C1025.4 413.7 1021.9 414.2 1019.7 414.6 C1017.4 414.9 1015.1 415.2 1012.8 415.6 C1010.5 415.9 1008.2 416.2 1005.9 416.5 C1003.7 416.9 1001.4 417.2 999.1 417.5 C996.8 417.8 994.6 418.1 992.3 418.4 C990.0 418.7 987.7 419.0 985.5 419.3 C983.2 419.7 980.9 420.0 978.6 420.3 C976.4 420.6 974.1 420.8 971.8 421.1 C969.6 421.4 967.3 421.7 965.0 422.0 C962.8 422.3 960.5 422.6 958.2 422.9 C956.0 423.2 953.7 423.5 951.4 423.8 C949.2 424.1 946.9 424.4 944.7 424.6 C942.4 424.9 940.1 425.2 937.9 425.5 C935.6 425.8 933.3 426.1 931.1 426.4 C928.8 426.7 926.6 427.0 924.3 427.3 C922.0 427.6 919.8 427.9 917.5 428.1 C915.2 428.4 913.0 428.7 910.7 429.0 C908.4 429.3 906.2 429.6 903.9 429.9 C901.6 430.2 899.4 430.5 897.1 430.8 C894.8 431.2 892.6 431.5 890.3 431.8 C888.0 432.1 885.8 432.4 883.5 432.7 C881.2 433.0 878.9 433.4 876.7 433.7 C874.4 434.0 872.1 434.3 869.8 434.7 C867.6 435.0 865.3 435.3 863.0 435.7 C860.7 436.0 858.5 436.4 856.2 436.7 C853.9 437.1 851.6 437.4 849.3 437.8 C847.0 438.1 844.7 438.5 842.5 438.9 C840.2 439.3 837.9 439.7 835.6 440.1 C833.3 440.5 831.1 441.0 828.8 441.5 C826.6 442.0 824.3 442.5 822.1 443.1 C819.9 443.6 817.6 444.3 815.4 444.9 C813.3 445.6 811.1 446.3 808.9 447.1 C806.8 447.9 804.6 448.7 802.5 449.7 C800.4 450.6 798.3 451.6 796.3 452.6 C794.2 453.7 792.2 454.8 790.3 456.1 C788.4 457.4 786.6 458.7 785.1 460.3 C783.6 461.8 782.2 463.4 781.2 465.3 C780.2 467.1 779.4 469.1 779.1 471.3 C778.9 473.5 779.5 477.4 779.5 478.6" stroke-dasharray="11 5"/>
<path d="M1077.4 513.2 L1081.2 522.3 M1083.6 527 L1088.3 536.1 M1088.9 534.4 L1084.5 536"/>
</g>
<rect x="512.9" y="620.8" width="47.9" height="19.0" fill="#fff"/>
<text x="512.4" y="636.2" font-size="16.4" textLength="48.5" lengthAdjust="spacingAndGlyphs" >λ0,012</text>
<rect x="610.0" y="620.8" width="47.5" height="19.0" fill="#fff"/>
<text x="609.5" y="636.2" font-size="16.4" textLength="48.1" lengthAdjust="spacingAndGlyphs" >λ0,032</text>
<rect x="757.9" y="620.8" width="29.1" height="19.0" fill="#fff"/>
<text x="757.4" y="636.2" font-size="16.4" textLength="29.7" lengthAdjust="spacingAndGlyphs" >λ0,1</text>
<rect x="886.5" y="620.8" width="30.5" height="19.0" fill="#fff"/>
<text x="886.0" y="636.2" font-size="16.4" textLength="31.1" lengthAdjust="spacingAndGlyphs" >λ0,3</text>
<rect x="1035.7" y="620.8" width="17.6" height="19.0" fill="#fff"/>
<text x="1035.2" y="636.2" font-size="16.4" textLength="18.2" lengthAdjust="spacingAndGlyphs" >λ1</text>
<rect x="1115.5" y="620.8" width="17.3" height="19.0" fill="#fff"/>
<text x="1115.0" y="636.2" font-size="16.4" textLength="17.9" lengthAdjust="spacingAndGlyphs" >λ2</text>
<rect x="674.8" y="417.6" width="17.0" height="19.0" fill="#fff"/>
<text x="679.2" y="433.0" font-size="16.4" textLength="8.2" lengthAdjust="spacingAndGlyphs" >3</text>
<rect x="578.8" y="499.3" width="17.0" height="19.0" fill="#fff"/>
<text x="583.2" y="514.7" font-size="16.4" textLength="8.1" lengthAdjust="spacingAndGlyphs" >5</text>
<rect x="710.7" y="480.4" width="17.4" height="19.0" fill="#fff"/>
<text x="710.2" y="495.8" font-size="16.4" textLength="18.0" lengthAdjust="spacingAndGlyphs" >30</text>
<rect x="787.3" y="392.0" width="17.6" height="19.0" fill="#fff"/>
<text x="786.8" y="407.4" font-size="16.4" textLength="18.2" lengthAdjust="spacingAndGlyphs" >15</text>
<rect x="922.7" y="382.0" width="17.7" height="19.0" fill="#fff"/>
<text x="922.2" y="397.4" font-size="16.4" textLength="18.3" lengthAdjust="spacingAndGlyphs" >30</text>
<rect x="1000.5" y="378.8" width="17.6" height="19.0" fill="#fff"/>
<text x="1000.0" y="394.2" font-size="16.4" textLength="18.2" lengthAdjust="spacingAndGlyphs" >32</text>
<rect x="1026.3" y="416.2" width="17.8" height="19.0" fill="#fff"/>
<text x="1025.8" y="431.6" font-size="16.4" textLength="18.4" lengthAdjust="spacingAndGlyphs" >65</text>
<rect x="950.5" y="428.3" width="17.6" height="19.0" fill="#fff"/>
<text x="950.0" y="443.7" font-size="16.4" textLength="18.2" lengthAdjust="spacingAndGlyphs" >40</text>
<rect x="820.8" y="447.8" width="17.0" height="19.0" fill="#fff"/>
<text x="824.5" y="463.2" font-size="16.4" textLength="9.5" lengthAdjust="spacingAndGlyphs" >8</text>
<rect x="847.3" y="494.6" width="17.6" height="19.0" fill="#fff"/>
<text x="846.8" y="510.0" font-size="16.4" textLength="18.2" lengthAdjust="spacingAndGlyphs" >35</text>
<rect x="996.5" y="515.6" width="17.6" height="19.0" fill="#fff"/>
<text x="996.0" y="531.0" font-size="16.4" textLength="18.2" lengthAdjust="spacingAndGlyphs" >25</text>
<rect x="1088.6" y="511.4" width="17.0" height="19.0" fill="#fff"/>
<text x="1092.7" y="526.8" font-size="16.4" textLength="8.8" lengthAdjust="spacingAndGlyphs" >3</text>
<rect x="625.9" y="754.7" width="18.7" height="17.0" fill="#fff"/>
<text x="626.1" y="768.6" font-size="18.0" textLength="18.3" lengthAdjust="spacingAndGlyphs" >&lt;1</text>
<rect x="719.8" y="755.0" width="25.2" height="17.0" fill="#fff"/>
<text x="720.0" y="768.9" font-size="18.0" textLength="24.8" lengthAdjust="spacingAndGlyphs" >4,5</text>
<rect x="843.2" y="755.0" width="21.0" height="17.0" fill="#fff"/>
<text x="843.4" y="768.9" font-size="18.0" textLength="20.6" lengthAdjust="spacingAndGlyphs" >10</text>
<rect x="965.3" y="755.0" width="34.9" height="17.0" fill="#fff"/>
<text x="965.5" y="768.9" font-size="18.0" textLength="34.5" lengthAdjust="spacingAndGlyphs" >14,5</text>
<rect x="1110.3" y="755.0" width="26.7" height="17.0" fill="#fff"/>
<text x="1110.5" y="768.9" font-size="18.0" textLength="26.3" lengthAdjust="spacingAndGlyphs" >3,0</text>
<rect x="1193.9" y="754.7" width="18.8" height="17.0" fill="#fff"/>
<text x="1194.1" y="768.6" font-size="18.0" textLength="18.4" lengthAdjust="spacingAndGlyphs" >&lt;1</text>
<path fill="none" stroke="#000" stroke-width="4" d="M439.4 640.8 L821.4 640.7 L821.4 640.8 C823.2 641.0 828.8 641.5 832.6 642.0 C836.3 642.4 840.0 642.9 843.7 643.4 C847.4 643.9 851.1 644.4 854.9 645.0 C858.6 645.5 862.3 646.1 866.0 646.7 C869.6 647.3 873.3 648.0 877.0 648.6 C880.7 649.3 884.4 649.9 888.1 650.6 C891.8 651.3 895.4 652.0 899.1 652.8 C902.8 653.5 906.5 654.2 910.1 655.0 C913.8 655.7 917.5 656.5 921.2 657.3 C924.8 658.1 928.5 658.9 932.1 659.7 C935.8 660.5 939.5 661.3 943.1 662.1 C946.8 662.9 950.5 663.7 954.1 664.5 C957.8 665.3 961.4 666.1 965.1 666.9 C968.8 667.8 972.4 668.6 976.1 669.4 C979.8 670.2 983.4 671.0 987.1 671.8 C990.7 672.6 994.4 673.4 998.1 674.2 C1001.7 675.0 1005.4 675.7 1009.1 676.5 C1012.7 677.3 1016.4 678.0 1020.1 678.8 C1023.8 679.5 1027.4 680.2 1031.1 680.9 C1034.8 681.6 1038.5 682.3 1042.1 683.0 C1045.8 683.6 1049.5 684.3 1053.2 684.9 C1056.9 685.5 1060.6 686.1 1064.3 686.7 C1068.0 687.3 1071.7 687.8 1075.4 688.3 C1079.1 688.8 1082.8 689.3 1086.5 689.8 C1090.2 690.2 1093.9 690.7 1097.7 691.1 C1101.4 691.4 1105.1 691.8 1108.9 692.1 C1112.6 692.4 1116.3 692.7 1120.1 693.0 C1123.8 693.2 1127.6 693.4 1131.4 693.6 C1135.1 693.7 1140.8 693.8 1142.7 693.9"/>
<rect x="1338" y="750.6" width="47" height="21.4" fill="#fff"/>
<text x="1338.8" y="768.9" font-size="18.3" textLength="45.2" lengthAdjust="spacingAndGlyphs" font-weight="bold" >% RA</text>
<rect x="1338" y="808.5" width="47" height="24.5" fill="#fff"/>
<text x="1340.0" y="825.8" font-size="18.3" textLength="24.3" lengthAdjust="spacingAndGlyphs" font-weight="bold" >HV</text>
<text x="1364.6" y="830.4" font-size="12.6" textLength="14.6" lengthAdjust="spacingAndGlyphs" font-weight="bold" >10</text>
<text x="444.2" y="426.0" font-size="25.5" textLength="18.6" lengthAdjust="spacingAndGlyphs" font-weight="bold" >A</text>
<text x="735.6" y="448.0" font-size="25.5" textLength="12.0" lengthAdjust="spacingAndGlyphs" font-weight="bold" >F</text>
<text x="893.4" y="478.0" font-size="25.5" textLength="15.5" lengthAdjust="spacingAndGlyphs" font-weight="bold" >P</text>
<text x="758.4" y="560.4" font-size="25.5" textLength="35.0" lengthAdjust="spacingAndGlyphs" font-weight="bold" >Zw</text>
<text x="492.6" y="686.8" font-size="25.5" textLength="25.0" lengthAdjust="spacingAndGlyphs" font-weight="bold" >M</text>
<circle cx="702.6" cy="819.6" r="18" fill="#fff" stroke="#000" stroke-width="1"/>
<text x="702.6" y="826.4" font-size="18.0" textLength="32.5" lengthAdjust="spacingAndGlyphs" text-anchor="middle" >628</text>
<circle cx="804.2" cy="819.6" r="18" fill="#fff" stroke="#000" stroke-width="1"/>
<text x="804.2" y="826.4" font-size="18.0" textLength="32.5" lengthAdjust="spacingAndGlyphs" text-anchor="middle" >607</text>
<circle cx="946.5" cy="819.6" r="18" fill="#fff" stroke="#000" stroke-width="1"/>
<text x="946.5" y="826.4" font-size="18.0" textLength="32.5" lengthAdjust="spacingAndGlyphs" text-anchor="middle" >499</text>
<circle cx="1074.4" cy="819.6" r="18" fill="#fff" stroke="#000" stroke-width="1"/>
<text x="1074.4" y="826.4" font-size="18.0" textLength="32.5" lengthAdjust="spacingAndGlyphs" text-anchor="middle" >404</text>
<circle cx="1215.4" cy="819.6" r="18" fill="#fff" stroke="#000" stroke-width="1"/>
<text x="1215.4" y="826.4" font-size="18.0" textLength="32.5" lengthAdjust="spacingAndGlyphs" text-anchor="middle" >293</text>
<circle cx="1296.9" cy="819.6" r="18" fill="#fff" stroke="#000" stroke-width="1"/>
<text x="1296.9" y="826.4" font-size="18.0" textLength="32.5" lengthAdjust="spacingAndGlyphs" text-anchor="middle" >281</text>
<rect x="1090.5" y="49.5" width="384.2" height="59.5" fill="#fff" stroke="#000" stroke-width="1.1"/>
<text x="1104.6" y="73.6" font-size="17.8" textLength="249.5" lengthAdjust="spacingAndGlyphs" >Austenitisierungstemperatur:</text>
<text x="1388.0" y="73.6" font-size="17.8" textLength="65.4" lengthAdjust="spacingAndGlyphs" >1000 °C</text>
<text x="1104.0" y="98.6" font-size="17.8" textLength="140.5" lengthAdjust="spacingAndGlyphs" >Haltedauer: 10 s</text>
<text x="1282.6" y="98.6" font-size="17.8" textLength="174.5" lengthAdjust="spacingAndGlyphs" >(Heizrate: 81,67 K/s)</text>
<rect x="1340.2" y="285.4" width="133.4" height="32.0" fill="#fff" stroke="#000" stroke-width="1.1"/>
<text x="1346.6" y="308.8" font-size="22.2" textLength="24.9" lengthAdjust="spacingAndGlyphs" font-weight="bold" >Ac</text>
<text x="1371.7" y="313.3" font-size="15.0" textLength="9.1" lengthAdjust="spacingAndGlyphs" font-weight="bold" >3</text>
<text x="1390.4" y="308.8" font-size="22.2" textLength="75.2" lengthAdjust="spacingAndGlyphs" >(810°C)</text>
<rect x="1340.2" y="320.6" width="133.4" height="31.9" fill="#fff" stroke="#000" stroke-width="1.1"/>
<text x="1341.8" y="344.9" font-size="22.2" textLength="24.9" lengthAdjust="spacingAndGlyphs" font-weight="bold" >Ac</text>
<text x="1366.9" y="349.4" font-size="15.0" textLength="16.8" lengthAdjust="spacingAndGlyphs" font-weight="bold" >1e</text>
<text x="1383.9" y="344.9" font-size="22.2" textLength="86.9" lengthAdjust="spacingAndGlyphs" >(~760°C)</text>
<rect x="1340.2" y="354.4" width="133.4" height="31.7" fill="#fff" stroke="#000" stroke-width="1.1"/>
<text x="1344.2" y="377.6" font-size="22.2" textLength="24.9" lengthAdjust="spacingAndGlyphs" font-weight="bold" >Ac</text>
<text x="1369.3" y="382.1" font-size="15.0" textLength="17.6" lengthAdjust="spacingAndGlyphs" font-weight="bold" >1b</text>
<text x="1393.3" y="377.6" font-size="22.2" textLength="74.7" lengthAdjust="spacingAndGlyphs" >(735°C)</text>
<text x="248.0" y="594.8" font-size="26.2" textLength="24.0" lengthAdjust="spacingAndGlyphs" font-weight="bold" >M</text>
<text x="272.2" y="600.4" font-size="16.2" textLength="9.0" lengthAdjust="spacingAndGlyphs" font-weight="bold" >S</text>
<text x="288.0" y="594.8" font-size="21.5" textLength="75.4" lengthAdjust="spacingAndGlyphs" >(300°C)</text>
<rect x="132.3" y="603.5" width="307.1" height="233.5" fill="#fff" stroke="#000" stroke-width="1.1"/>
<text x="147.8" y="620.8" font-size="18.0" textLength="13.8" lengthAdjust="spacingAndGlyphs" font-weight="bold" >A</text>
<text x="199.0" y="620.8" font-size="18.0" textLength="168.0" lengthAdjust="spacingAndGlyphs" >Bereich d. Austenits</text>
<text x="147.8" y="643.7" font-size="18.0" textLength="10.8" lengthAdjust="spacingAndGlyphs" font-weight="bold" >F</text>
<text x="199.0" y="643.7" font-size="18.0" textLength="199.4" lengthAdjust="spacingAndGlyphs" >Bereich d. Ferritbildung</text>
<text x="147.8" y="666.6" font-size="18.0" textLength="11.6" lengthAdjust="spacingAndGlyphs" font-weight="bold" >P</text>
<text x="199.0" y="666.6" font-size="18.0" textLength="197.9" lengthAdjust="spacingAndGlyphs" >Bereich d. Perlitbildung</text>
<text x="147.8" y="689.5" font-size="18.0" textLength="26.8" lengthAdjust="spacingAndGlyphs" font-weight="bold" >Zw</text>
<text x="199.0" y="689.5" font-size="18.0" textLength="227.3" lengthAdjust="spacingAndGlyphs" >Bereich d. Zwischenstufen-</text>
<text x="199.0" y="712.7" font-size="18.0" textLength="121.6" lengthAdjust="spacingAndGlyphs" >gefügebildung</text>
<text x="147.8" y="735.6" font-size="18.0" textLength="18.6" lengthAdjust="spacingAndGlyphs" font-weight="bold" >M</text>
<text x="199.0" y="735.6" font-size="18.0" textLength="236.1" lengthAdjust="spacingAndGlyphs" >Bereich d. Martensitbildung</text>
<text x="147.8" y="758.8" font-size="18.0" textLength="18.6" lengthAdjust="spacingAndGlyphs" font-weight="bold" >M</text>
<text x="199.0" y="758.8" font-size="18.0" textLength="224.9" lengthAdjust="spacingAndGlyphs" >Starttemperatur Martensit</text>
<text x="147.8" y="781.7" font-size="18.0" textLength="25.8" lengthAdjust="spacingAndGlyphs" font-weight="bold" >HV</text>
<text x="199.0" y="781.7" font-size="18.0" textLength="147.4" lengthAdjust="spacingAndGlyphs" >Härtewerte in HV</text>
<text x="147.8" y="804.6" font-size="18.0" textLength="25.2" lengthAdjust="spacingAndGlyphs" font-weight="bold" >RA</text>
<text x="199.0" y="804.6" font-size="18.0" textLength="197.3" lengthAdjust="spacingAndGlyphs" >Restaustenitgehalt in %</text>
<text x="147.8" y="827.5" font-size="18.0" textLength="51.2" lengthAdjust="spacingAndGlyphs" font-weight="bold" >1;2;…</text>
<text x="199.0" y="827.5" font-size="18.0" textLength="158.9" lengthAdjust="spacingAndGlyphs" >Gefügeanteile in %</text>
<text x="166.0" y="762.8" font-size="12.6" textLength="7.6" lengthAdjust="spacingAndGlyphs" font-weight="bold" >S</text>
<text x="345.6" y="784.8" font-size="12.6" textLength="14.2" lengthAdjust="spacingAndGlyphs" >10</text>
<path d="M0 0H1527V988H0Z M2 2H1525V986H2Z" fill="#000" fill-rule="evenodd"/>
</svg></body></html>
